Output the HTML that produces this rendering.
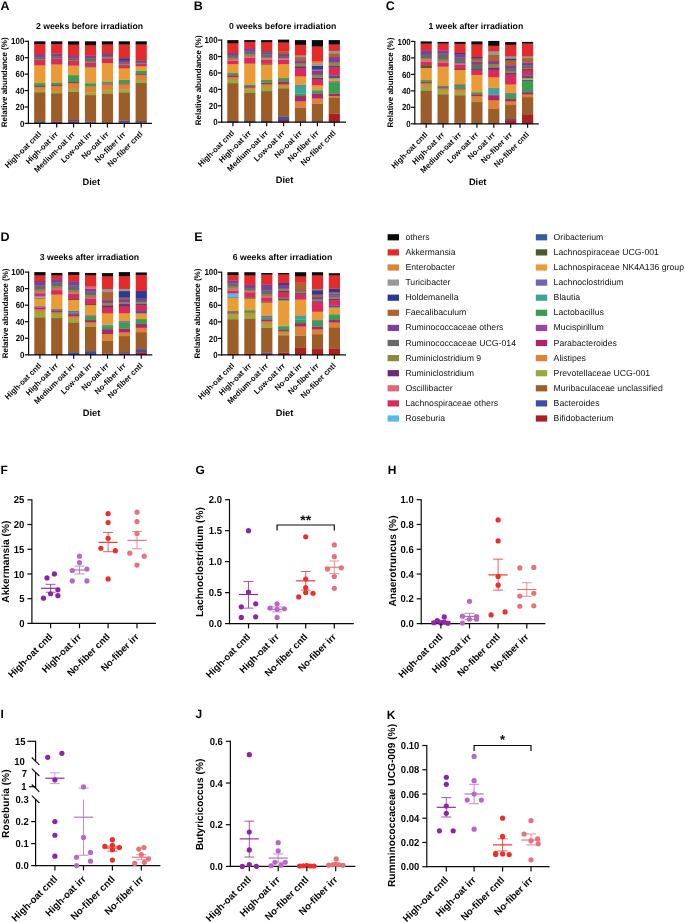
<!DOCTYPE html>
<html><head><meta charset="utf-8"><title>Figure</title>
<style>
html,body{margin:0;padding:0;background:#ffffff;}
body{width:685px;height:922px;overflow:hidden;}
svg{display:block;will-change:transform;}
text{font-family:"Liberation Sans", sans-serif;text-rendering:geometricPrecision;}
</style></head>
<body>
<svg width="685" height="922" viewBox="0 0 685 922">
<rect width="685" height="922" fill="#ffffff"/>
<rect x="34.20" y="122.74" width="11.20" height="0.91" fill="#a81f24"/>
<rect x="34.20" y="121.18" width="11.20" height="1.81" fill="#3c4fa5"/>
<rect x="34.20" y="92.12" width="11.20" height="29.31" fill="#9c5d29"/>
<rect x="34.20" y="90.15" width="11.20" height="2.22" fill="#9aaa3c"/>
<rect x="34.20" y="86.78" width="11.20" height="3.62" fill="#dd8236"/>
<rect x="34.20" y="85.96" width="11.20" height="1.07" fill="#b0246a"/>
<rect x="34.20" y="83.01" width="11.20" height="3.21" fill="#3c9c50"/>
<rect x="34.20" y="65.03" width="11.20" height="18.23" fill="#eb9b35"/>
<rect x="34.20" y="59.85" width="11.20" height="5.42" fill="#da2a5c"/>
<rect x="34.20" y="58.87" width="11.20" height="1.24" fill="#8b8a3a"/>
<rect x="34.20" y="58.05" width="11.20" height="1.07" fill="#686868"/>
<rect x="34.20" y="57.39" width="11.20" height="0.91" fill="#4f5a2a"/>
<rect x="34.20" y="54.03" width="11.20" height="3.62" fill="#7f3e9d"/>
<rect x="34.20" y="43.76" width="11.20" height="10.51" fill="#e32b2b"/>
<rect x="34.20" y="41.30" width="11.20" height="2.71" fill="#0a0a0a"/>
<rect x="51.10" y="121.43" width="11.20" height="2.22" fill="#6b2a7b"/>
<rect x="51.10" y="93.11" width="11.20" height="28.57" fill="#9c5d29"/>
<rect x="51.10" y="91.13" width="11.20" height="2.22" fill="#9aaa3c"/>
<rect x="51.10" y="85.80" width="11.20" height="5.59" fill="#dd8236"/>
<rect x="51.10" y="84.98" width="11.20" height="1.07" fill="#b0246a"/>
<rect x="51.10" y="82.35" width="11.20" height="2.88" fill="#3c9c50"/>
<rect x="51.10" y="64.29" width="11.20" height="18.31" fill="#eb9b35"/>
<rect x="51.10" y="58.87" width="11.20" height="5.67" fill="#da2a5c"/>
<rect x="51.10" y="58.05" width="11.20" height="1.07" fill="#8b8a3a"/>
<rect x="51.10" y="57.15" width="11.20" height="1.15" fill="#686868"/>
<rect x="51.10" y="56.49" width="11.20" height="0.91" fill="#4f5a2a"/>
<rect x="51.10" y="53.53" width="11.20" height="3.21" fill="#7f3e9d"/>
<rect x="51.10" y="43.76" width="11.20" height="10.02" fill="#e32b2b"/>
<rect x="51.10" y="41.30" width="11.20" height="2.71" fill="#0a0a0a"/>
<rect x="68.00" y="121.43" width="11.20" height="2.22" fill="#a81f24"/>
<rect x="68.00" y="119.95" width="11.20" height="1.73" fill="#3c4fa5"/>
<rect x="68.00" y="91.63" width="11.20" height="28.57" fill="#9c5d29"/>
<rect x="68.00" y="88.67" width="11.20" height="3.21" fill="#9aaa3c"/>
<rect x="68.00" y="82.84" width="11.20" height="6.08" fill="#dd8236"/>
<rect x="68.00" y="81.86" width="11.20" height="1.24" fill="#b0246a"/>
<rect x="68.00" y="75.04" width="11.20" height="7.06" fill="#3c9c50"/>
<rect x="68.00" y="65.44" width="11.20" height="9.86" fill="#eb9b35"/>
<rect x="68.00" y="60.84" width="11.20" height="4.85" fill="#da2a5c"/>
<rect x="68.00" y="60.02" width="11.20" height="1.07" fill="#8b8a3a"/>
<rect x="68.00" y="59.03" width="11.20" height="1.24" fill="#686868"/>
<rect x="68.00" y="58.38" width="11.20" height="0.91" fill="#4f5a2a"/>
<rect x="68.00" y="56.00" width="11.20" height="2.63" fill="#7f3e9d"/>
<rect x="68.00" y="44.50" width="11.20" height="11.74" fill="#e32b2b"/>
<rect x="68.00" y="41.30" width="11.20" height="3.45" fill="#0a0a0a"/>
<rect x="84.90" y="122.58" width="11.20" height="1.07" fill="#6b2a7b"/>
<rect x="84.90" y="121.59" width="11.20" height="1.24" fill="#3c4fa5"/>
<rect x="84.90" y="94.99" width="11.20" height="26.85" fill="#9c5d29"/>
<rect x="84.90" y="92.45" width="11.20" height="2.80" fill="#9aaa3c"/>
<rect x="84.90" y="86.29" width="11.20" height="6.41" fill="#dd8236"/>
<rect x="84.90" y="83.66" width="11.20" height="2.88" fill="#3c9c50"/>
<rect x="84.90" y="83.01" width="11.20" height="0.91" fill="#40a39a"/>
<rect x="84.90" y="67.41" width="11.20" height="15.85" fill="#eb9b35"/>
<rect x="84.90" y="66.67" width="11.20" height="0.99" fill="#3c9c50"/>
<rect x="84.90" y="62.24" width="11.20" height="4.68" fill="#da2a5c"/>
<rect x="84.90" y="61.00" width="11.20" height="1.48" fill="#8b8a3a"/>
<rect x="84.90" y="59.53" width="11.20" height="1.73" fill="#686868"/>
<rect x="84.90" y="58.46" width="11.20" height="1.32" fill="#4f5a2a"/>
<rect x="84.90" y="55.59" width="11.20" height="3.12" fill="#7f3e9d"/>
<rect x="84.90" y="44.91" width="11.20" height="10.92" fill="#e32b2b"/>
<rect x="84.90" y="41.30" width="11.20" height="3.86" fill="#0a0a0a"/>
<rect x="101.80" y="93.27" width="11.20" height="30.38" fill="#9c5d29"/>
<rect x="101.80" y="90.40" width="11.20" height="3.12" fill="#9aaa3c"/>
<rect x="101.80" y="84.24" width="11.20" height="6.41" fill="#dd8236"/>
<rect x="101.80" y="83.42" width="11.20" height="1.07" fill="#b0246a"/>
<rect x="101.80" y="81.36" width="11.20" height="2.30" fill="#3c9c50"/>
<rect x="101.80" y="62.81" width="11.20" height="18.80" fill="#eb9b35"/>
<rect x="101.80" y="58.13" width="11.20" height="4.93" fill="#da2a5c"/>
<rect x="101.80" y="57.31" width="11.20" height="1.07" fill="#8b8a3a"/>
<rect x="101.80" y="56.49" width="11.20" height="1.07" fill="#686868"/>
<rect x="101.80" y="55.83" width="11.20" height="0.91" fill="#4f5a2a"/>
<rect x="101.80" y="53.04" width="11.20" height="3.04" fill="#7f3e9d"/>
<rect x="101.80" y="44.17" width="11.20" height="9.12" fill="#e32b2b"/>
<rect x="101.80" y="41.30" width="11.20" height="3.12" fill="#0a0a0a"/>
<rect x="118.70" y="122.25" width="11.20" height="1.40" fill="#a81f24"/>
<rect x="118.70" y="120.53" width="11.20" height="1.97" fill="#3c4fa5"/>
<rect x="118.70" y="92.20" width="11.20" height="28.57" fill="#9c5d29"/>
<rect x="118.70" y="89.33" width="11.20" height="3.12" fill="#9aaa3c"/>
<rect x="118.70" y="84.07" width="11.20" height="5.50" fill="#dd8236"/>
<rect x="118.70" y="83.25" width="11.20" height="1.07" fill="#b0246a"/>
<rect x="118.70" y="79.64" width="11.20" height="3.86" fill="#3c9c50"/>
<rect x="118.70" y="68.06" width="11.20" height="11.83" fill="#eb9b35"/>
<rect x="118.70" y="65.03" width="11.20" height="3.29" fill="#da2a5c"/>
<rect x="118.70" y="64.21" width="11.20" height="1.07" fill="#8b8a3a"/>
<rect x="118.70" y="63.30" width="11.20" height="1.15" fill="#686868"/>
<rect x="118.70" y="62.56" width="11.20" height="0.99" fill="#4f5a2a"/>
<rect x="118.70" y="59.94" width="11.20" height="2.88" fill="#7f3e9d"/>
<rect x="118.70" y="58.13" width="11.20" height="2.06" fill="#2e3a8f"/>
<rect x="118.70" y="44.17" width="11.20" height="14.21" fill="#e32b2b"/>
<rect x="118.70" y="41.30" width="11.20" height="3.12" fill="#0a0a0a"/>
<rect x="135.60" y="122.25" width="11.20" height="1.40" fill="#a81f24"/>
<rect x="135.60" y="121.02" width="11.20" height="1.48" fill="#3c4fa5"/>
<rect x="135.60" y="82.68" width="11.20" height="38.59" fill="#9c5d29"/>
<rect x="135.60" y="80.13" width="11.20" height="2.80" fill="#9aaa3c"/>
<rect x="135.60" y="74.80" width="11.20" height="5.59" fill="#dd8236"/>
<rect x="135.60" y="74.06" width="11.20" height="0.99" fill="#b0246a"/>
<rect x="135.60" y="70.45" width="11.20" height="3.86" fill="#3c9c50"/>
<rect x="135.60" y="66.01" width="11.20" height="4.68" fill="#eb9b35"/>
<rect x="135.60" y="63.80" width="11.20" height="2.47" fill="#da2a5c"/>
<rect x="135.60" y="63.14" width="11.20" height="0.91" fill="#8b8a3a"/>
<rect x="135.60" y="62.65" width="11.20" height="0.74" fill="#686868"/>
<rect x="135.60" y="62.24" width="11.20" height="0.66" fill="#4f5a2a"/>
<rect x="135.60" y="60.18" width="11.20" height="2.30" fill="#7f3e9d"/>
<rect x="135.60" y="44.17" width="11.20" height="16.26" fill="#e32b2b"/>
<rect x="135.60" y="41.30" width="11.20" height="3.12" fill="#0a0a0a"/>
<line x1="28.40" y1="40.80" x2="28.40" y2="123.95" stroke="#0a0a0a" stroke-width="1.2"/>
<line x1="27.85" y1="123.40" x2="152.00" y2="123.40" stroke="#0a0a0a" stroke-width="1.2"/>
<line x1="24.60" y1="123.40" x2="28.40" y2="123.40" stroke="#0a0a0a" stroke-width="1.2"/>
<text transform="translate(24.30 126.55) scale(0.9 1)" font-size="8.8" font-weight="bold" text-anchor="end" fill="#050505">0</text>
<line x1="24.60" y1="106.98" x2="28.40" y2="106.98" stroke="#0a0a0a" stroke-width="1.2"/>
<text transform="translate(24.30 110.13) scale(0.9 1)" font-size="8.8" font-weight="bold" text-anchor="end" fill="#050505">20</text>
<line x1="24.60" y1="90.56" x2="28.40" y2="90.56" stroke="#0a0a0a" stroke-width="1.2"/>
<text transform="translate(24.30 93.71) scale(0.9 1)" font-size="8.8" font-weight="bold" text-anchor="end" fill="#050505">40</text>
<line x1="24.60" y1="74.14" x2="28.40" y2="74.14" stroke="#0a0a0a" stroke-width="1.2"/>
<text transform="translate(24.30 77.29) scale(0.9 1)" font-size="8.8" font-weight="bold" text-anchor="end" fill="#050505">60</text>
<line x1="24.60" y1="57.72" x2="28.40" y2="57.72" stroke="#0a0a0a" stroke-width="1.2"/>
<text transform="translate(24.30 60.87) scale(0.9 1)" font-size="8.8" font-weight="bold" text-anchor="end" fill="#050505">80</text>
<line x1="24.60" y1="41.30" x2="28.40" y2="41.30" stroke="#0a0a0a" stroke-width="1.2"/>
<text transform="translate(24.30 44.45) scale(0.9 1)" font-size="8.8" font-weight="bold" text-anchor="end" fill="#050505">100</text>
<line x1="39.80" y1="123.40" x2="39.80" y2="127.40" stroke="#0a0a0a" stroke-width="1.2"/>
<text x="41.70" y="134.80" font-size="7.8" font-weight="bold" text-anchor="end" fill="#050505" transform="rotate(-45 41.70 134.80)">High-oat cntl</text>
<line x1="56.70" y1="123.40" x2="56.70" y2="127.40" stroke="#0a0a0a" stroke-width="1.2"/>
<text x="58.60" y="134.80" font-size="7.8" font-weight="bold" text-anchor="end" fill="#050505" transform="rotate(-45 58.60 134.80)">High-oat irr</text>
<line x1="73.60" y1="123.40" x2="73.60" y2="127.40" stroke="#0a0a0a" stroke-width="1.2"/>
<text x="75.50" y="134.80" font-size="7.8" font-weight="bold" text-anchor="end" fill="#050505" transform="rotate(-45 75.50 134.80)">Medium-oat irr</text>
<line x1="90.50" y1="123.40" x2="90.50" y2="127.40" stroke="#0a0a0a" stroke-width="1.2"/>
<text x="92.40" y="134.80" font-size="7.8" font-weight="bold" text-anchor="end" fill="#050505" transform="rotate(-45 92.40 134.80)">Low-oat irr</text>
<line x1="107.40" y1="123.40" x2="107.40" y2="127.40" stroke="#0a0a0a" stroke-width="1.2"/>
<text x="109.30" y="134.80" font-size="7.8" font-weight="bold" text-anchor="end" fill="#050505" transform="rotate(-45 109.30 134.80)">No-oat irr</text>
<line x1="124.30" y1="123.40" x2="124.30" y2="127.40" stroke="#0a0a0a" stroke-width="1.2"/>
<text x="126.20" y="134.80" font-size="7.8" font-weight="bold" text-anchor="end" fill="#050505" transform="rotate(-45 126.20 134.80)">No-fiber irr</text>
<line x1="141.20" y1="123.40" x2="141.20" y2="127.40" stroke="#0a0a0a" stroke-width="1.2"/>
<text x="143.10" y="134.80" font-size="7.8" font-weight="bold" text-anchor="end" fill="#050505" transform="rotate(-45 143.10 134.80)">No-fiber cntl</text>
<text x="89.50" y="29.00" font-size="8.7" font-weight="bold" text-anchor="middle" fill="#050505">2 weeks before irradiation</text>
<text x="7.40" y="82.35" font-size="8.0" font-weight="bold" text-anchor="middle" fill="#050505" transform="rotate(-90 7.40 82.35)">Relative abundance (%)</text>
<text x="91.30" y="184.80" font-size="9.3" font-weight="bold" text-anchor="middle" fill="#050505">Diet</text>
<text x="0.60" y="9.60" font-size="12.5" font-weight="bold" text-anchor="start" fill="#050505">A</text>
<rect x="227.30" y="120.64" width="11.20" height="1.81" fill="#6b2a7b"/>
<rect x="227.30" y="83.04" width="11.20" height="37.85" fill="#9c5d29"/>
<rect x="227.30" y="78.93" width="11.20" height="4.35" fill="#9aaa3c"/>
<rect x="227.30" y="76.88" width="11.20" height="2.30" fill="#dd8236"/>
<rect x="227.30" y="75.16" width="11.20" height="1.97" fill="#b0246a"/>
<rect x="227.30" y="72.86" width="11.20" height="2.55" fill="#3c9c50"/>
<rect x="227.30" y="63.83" width="11.20" height="9.28" fill="#eb9b35"/>
<rect x="227.30" y="60.38" width="11.20" height="3.70" fill="#da2a5c"/>
<rect x="227.30" y="58.98" width="11.20" height="1.65" fill="#e0677a"/>
<rect x="227.30" y="57.67" width="11.20" height="1.56" fill="#8b8a3a"/>
<rect x="227.30" y="54.88" width="11.20" height="3.04" fill="#686868"/>
<rect x="227.30" y="52.91" width="11.20" height="2.22" fill="#7f3e9d"/>
<rect x="227.30" y="42.97" width="11.20" height="10.18" fill="#e32b2b"/>
<rect x="227.30" y="40.10" width="11.20" height="3.12" fill="#0a0a0a"/>
<rect x="244.20" y="121.05" width="11.20" height="1.40" fill="#3c4fa5"/>
<rect x="244.20" y="92.73" width="11.20" height="28.57" fill="#9c5d29"/>
<rect x="244.20" y="89.20" width="11.20" height="3.78" fill="#9aaa3c"/>
<rect x="244.20" y="87.47" width="11.20" height="1.97" fill="#dd8236"/>
<rect x="244.20" y="86.08" width="11.20" height="1.65" fill="#b0246a"/>
<rect x="244.20" y="84.35" width="11.20" height="1.97" fill="#3c9c50"/>
<rect x="244.20" y="63.42" width="11.20" height="21.19" fill="#eb9b35"/>
<rect x="244.20" y="57.51" width="11.20" height="6.16" fill="#da2a5c"/>
<rect x="244.20" y="55.95" width="11.20" height="1.81" fill="#e0677a"/>
<rect x="244.20" y="54.39" width="11.20" height="1.81" fill="#8b8a3a"/>
<rect x="244.20" y="51.10" width="11.20" height="3.53" fill="#686868"/>
<rect x="244.20" y="48.06" width="11.20" height="3.29" fill="#7f3e9d"/>
<rect x="244.20" y="41.66" width="11.20" height="6.65" fill="#e32b2b"/>
<rect x="244.20" y="40.10" width="11.20" height="1.81" fill="#0a0a0a"/>
<rect x="261.10" y="121.05" width="11.20" height="1.40" fill="#6b2a7b"/>
<rect x="261.10" y="91.00" width="11.20" height="30.30" fill="#9c5d29"/>
<rect x="261.10" y="86.81" width="11.20" height="4.44" fill="#9aaa3c"/>
<rect x="261.10" y="84.02" width="11.20" height="3.04" fill="#dd8236"/>
<rect x="261.10" y="82.55" width="11.20" height="1.73" fill="#b0246a"/>
<rect x="261.10" y="79.43" width="11.20" height="3.37" fill="#3c9c50"/>
<rect x="261.10" y="64.40" width="11.20" height="15.27" fill="#eb9b35"/>
<rect x="261.10" y="63.58" width="11.20" height="1.07" fill="#4f5a2a"/>
<rect x="261.10" y="59.56" width="11.20" height="4.27" fill="#da2a5c"/>
<rect x="261.10" y="58.33" width="11.20" height="1.48" fill="#e0677a"/>
<rect x="261.10" y="56.93" width="11.20" height="1.65" fill="#8b8a3a"/>
<rect x="261.10" y="54.39" width="11.20" height="2.80" fill="#686868"/>
<rect x="261.10" y="52.33" width="11.20" height="2.30" fill="#7f3e9d"/>
<rect x="261.10" y="51.10" width="11.20" height="1.48" fill="#4f5a2a"/>
<rect x="261.10" y="41.91" width="11.20" height="9.45" fill="#e32b2b"/>
<rect x="261.10" y="40.10" width="11.20" height="2.06" fill="#0a0a0a"/>
<rect x="278.00" y="119.82" width="11.20" height="2.63" fill="#a81f24"/>
<rect x="278.00" y="116.29" width="11.20" height="3.78" fill="#3c4fa5"/>
<rect x="278.00" y="88.13" width="11.20" height="28.41" fill="#9c5d29"/>
<rect x="278.00" y="86.08" width="11.20" height="2.30" fill="#9aaa3c"/>
<rect x="278.00" y="84.02" width="11.20" height="2.30" fill="#dd8236"/>
<rect x="278.00" y="81.23" width="11.20" height="3.04" fill="#b0246a"/>
<rect x="278.00" y="77.95" width="11.20" height="3.53" fill="#3c9c50"/>
<rect x="278.00" y="63.83" width="11.20" height="14.37" fill="#eb9b35"/>
<rect x="278.00" y="59.56" width="11.20" height="4.52" fill="#da2a5c"/>
<rect x="278.00" y="58.33" width="11.20" height="1.48" fill="#e0677a"/>
<rect x="278.00" y="55.95" width="11.20" height="2.63" fill="#686868"/>
<rect x="278.00" y="53.89" width="11.20" height="2.30" fill="#7f3e9d"/>
<rect x="278.00" y="51.35" width="11.20" height="2.80" fill="#b0622e"/>
<rect x="278.00" y="42.32" width="11.20" height="9.28" fill="#e32b2b"/>
<rect x="278.00" y="39.61" width="11.20" height="2.96" fill="#0a0a0a"/>
<rect x="294.90" y="107.34" width="11.20" height="15.11" fill="#9c5d29"/>
<rect x="294.90" y="101.10" width="11.20" height="6.49" fill="#dd8236"/>
<rect x="294.90" y="95.93" width="11.20" height="5.42" fill="#b0246a"/>
<rect x="294.90" y="93.30" width="11.20" height="2.88" fill="#3c9c50"/>
<rect x="294.90" y="85.01" width="11.20" height="8.54" fill="#40a39a"/>
<rect x="294.90" y="84.52" width="11.20" height="0.74" fill="#7462b3"/>
<rect x="294.90" y="76.14" width="11.20" height="8.62" fill="#eb9b35"/>
<rect x="294.90" y="68.34" width="11.20" height="8.05" fill="#da2a5c"/>
<rect x="294.90" y="66.13" width="11.20" height="2.47" fill="#6b2a7b"/>
<rect x="294.90" y="63.42" width="11.20" height="2.96" fill="#8b8a3a"/>
<rect x="294.90" y="60.95" width="11.20" height="2.71" fill="#7f3e9d"/>
<rect x="294.90" y="57.01" width="11.20" height="4.19" fill="#b0622e"/>
<rect x="294.90" y="55.12" width="11.20" height="2.14" fill="#979797"/>
<rect x="294.90" y="44.62" width="11.20" height="10.76" fill="#e32b2b"/>
<rect x="294.90" y="40.10" width="11.20" height="4.77" fill="#0a0a0a"/>
<rect x="311.80" y="121.21" width="11.20" height="1.24" fill="#3c4fa5"/>
<rect x="311.80" y="103.40" width="11.20" height="18.07" fill="#9c5d29"/>
<rect x="311.80" y="98.23" width="11.20" height="5.42" fill="#dd8236"/>
<rect x="311.80" y="93.30" width="11.20" height="5.18" fill="#b0246a"/>
<rect x="311.80" y="90.35" width="11.20" height="3.21" fill="#3c9c50"/>
<rect x="311.80" y="89.69" width="11.20" height="0.91" fill="#40a39a"/>
<rect x="311.80" y="85.01" width="11.20" height="4.93" fill="#eb9b35"/>
<rect x="311.80" y="79.10" width="11.20" height="6.16" fill="#da2a5c"/>
<rect x="311.80" y="77.62" width="11.20" height="1.73" fill="#6b2a7b"/>
<rect x="311.80" y="74.66" width="11.20" height="3.21" fill="#8b8a3a"/>
<rect x="311.80" y="70.31" width="11.20" height="4.60" fill="#7f3e9d"/>
<rect x="311.80" y="69.08" width="11.20" height="1.48" fill="#b0622e"/>
<rect x="311.80" y="65.55" width="11.20" height="3.78" fill="#2e3a8f"/>
<rect x="311.80" y="63.42" width="11.20" height="2.38" fill="#979797"/>
<rect x="311.80" y="60.95" width="11.20" height="2.71" fill="#dd8236"/>
<rect x="311.80" y="46.26" width="11.20" height="14.95" fill="#e32b2b"/>
<rect x="311.80" y="40.10" width="11.20" height="6.41" fill="#0a0a0a"/>
<rect x="328.70" y="113.42" width="11.20" height="9.03" fill="#a81f24"/>
<rect x="328.70" y="97.24" width="11.20" height="16.42" fill="#9c5d29"/>
<rect x="328.70" y="95.76" width="11.20" height="1.73" fill="#dd8236"/>
<rect x="328.70" y="93.30" width="11.20" height="2.71" fill="#b0246a"/>
<rect x="328.70" y="82.22" width="11.20" height="11.33" fill="#3c9c50"/>
<rect x="328.70" y="81.07" width="11.20" height="1.40" fill="#7462b3"/>
<rect x="328.70" y="78.11" width="11.20" height="3.21" fill="#eb9b35"/>
<rect x="328.70" y="75.40" width="11.20" height="2.96" fill="#2f5f9e"/>
<rect x="328.70" y="67.36" width="11.20" height="8.30" fill="#da2a5c"/>
<rect x="328.70" y="65.88" width="11.20" height="1.73" fill="#6b2a7b"/>
<rect x="328.70" y="62.43" width="11.20" height="3.70" fill="#8b8a3a"/>
<rect x="328.70" y="57.01" width="11.20" height="5.67" fill="#7f3e9d"/>
<rect x="328.70" y="53.15" width="11.20" height="4.11" fill="#b0622e"/>
<rect x="328.70" y="50.69" width="11.20" height="2.71" fill="#979797"/>
<rect x="328.70" y="44.29" width="11.20" height="6.65" fill="#e32b2b"/>
<rect x="328.70" y="40.10" width="11.20" height="4.44" fill="#0a0a0a"/>
<line x1="221.70" y1="39.60" x2="221.70" y2="122.75" stroke="#0a0a0a" stroke-width="1.2"/>
<line x1="221.15" y1="122.20" x2="346.00" y2="122.20" stroke="#0a0a0a" stroke-width="1.2"/>
<line x1="217.90" y1="122.20" x2="221.70" y2="122.20" stroke="#0a0a0a" stroke-width="1.2"/>
<text transform="translate(217.60 125.35) scale(0.9 1)" font-size="8.8" font-weight="bold" text-anchor="end" fill="#050505">0</text>
<line x1="217.90" y1="105.78" x2="221.70" y2="105.78" stroke="#0a0a0a" stroke-width="1.2"/>
<text transform="translate(217.60 108.93) scale(0.9 1)" font-size="8.8" font-weight="bold" text-anchor="end" fill="#050505">20</text>
<line x1="217.90" y1="89.36" x2="221.70" y2="89.36" stroke="#0a0a0a" stroke-width="1.2"/>
<text transform="translate(217.60 92.51) scale(0.9 1)" font-size="8.8" font-weight="bold" text-anchor="end" fill="#050505">40</text>
<line x1="217.90" y1="72.94" x2="221.70" y2="72.94" stroke="#0a0a0a" stroke-width="1.2"/>
<text transform="translate(217.60 76.09) scale(0.9 1)" font-size="8.8" font-weight="bold" text-anchor="end" fill="#050505">60</text>
<line x1="217.90" y1="56.52" x2="221.70" y2="56.52" stroke="#0a0a0a" stroke-width="1.2"/>
<text transform="translate(217.60 59.67) scale(0.9 1)" font-size="8.8" font-weight="bold" text-anchor="end" fill="#050505">80</text>
<line x1="217.90" y1="40.10" x2="221.70" y2="40.10" stroke="#0a0a0a" stroke-width="1.2"/>
<text transform="translate(217.60 43.25) scale(0.9 1)" font-size="8.8" font-weight="bold" text-anchor="end" fill="#050505">100</text>
<line x1="232.90" y1="122.20" x2="232.90" y2="126.20" stroke="#0a0a0a" stroke-width="1.2"/>
<text x="234.80" y="133.60" font-size="7.8" font-weight="bold" text-anchor="end" fill="#050505" transform="rotate(-45 234.80 133.60)">High-oat cntl</text>
<line x1="249.80" y1="122.20" x2="249.80" y2="126.20" stroke="#0a0a0a" stroke-width="1.2"/>
<text x="251.70" y="133.60" font-size="7.8" font-weight="bold" text-anchor="end" fill="#050505" transform="rotate(-45 251.70 133.60)">High-oat irr</text>
<line x1="266.70" y1="122.20" x2="266.70" y2="126.20" stroke="#0a0a0a" stroke-width="1.2"/>
<text x="268.60" y="133.60" font-size="7.8" font-weight="bold" text-anchor="end" fill="#050505" transform="rotate(-45 268.60 133.60)">Medium-oat irr</text>
<line x1="283.60" y1="122.20" x2="283.60" y2="126.20" stroke="#0a0a0a" stroke-width="1.2"/>
<text x="285.50" y="133.60" font-size="7.8" font-weight="bold" text-anchor="end" fill="#050505" transform="rotate(-45 285.50 133.60)">Low-oat irr</text>
<line x1="300.50" y1="122.20" x2="300.50" y2="126.20" stroke="#0a0a0a" stroke-width="1.2"/>
<text x="302.40" y="133.60" font-size="7.8" font-weight="bold" text-anchor="end" fill="#050505" transform="rotate(-45 302.40 133.60)">No-oat irr</text>
<line x1="317.40" y1="122.20" x2="317.40" y2="126.20" stroke="#0a0a0a" stroke-width="1.2"/>
<text x="319.30" y="133.60" font-size="7.8" font-weight="bold" text-anchor="end" fill="#050505" transform="rotate(-45 319.30 133.60)">No-fiber irr</text>
<line x1="334.30" y1="122.20" x2="334.30" y2="126.20" stroke="#0a0a0a" stroke-width="1.2"/>
<text x="336.20" y="133.60" font-size="7.8" font-weight="bold" text-anchor="end" fill="#050505" transform="rotate(-45 336.20 133.60)">No-fiber cntl</text>
<text x="282.70" y="28.50" font-size="8.7" font-weight="bold" text-anchor="middle" fill="#050505">0 weeks before irradiation</text>
<text x="201.00" y="80.35" font-size="8.0" font-weight="bold" text-anchor="middle" fill="#050505" transform="rotate(-90 201.00 80.35)">Relative abundance (%)</text>
<text x="284.60" y="182.70" font-size="9.3" font-weight="bold" text-anchor="middle" fill="#050505">Diet</text>
<text x="193.80" y="9.60" font-size="12.5" font-weight="bold" text-anchor="start" fill="#050505">B</text>
<rect x="420.60" y="122.98" width="11.20" height="1.07" fill="#3c4fa5"/>
<rect x="420.60" y="90.26" width="11.20" height="32.96" fill="#9c5d29"/>
<rect x="420.60" y="85.90" width="11.20" height="4.62" fill="#9aaa3c"/>
<rect x="420.60" y="83.09" width="11.20" height="3.05" fill="#dd8236"/>
<rect x="420.60" y="82.02" width="11.20" height="1.32" fill="#b0246a"/>
<rect x="420.60" y="79.96" width="11.20" height="2.31" fill="#3c9c50"/>
<rect x="420.60" y="67.77" width="11.20" height="12.45" fill="#eb9b35"/>
<rect x="420.60" y="65.13" width="11.20" height="2.89" fill="#4f5a2a"/>
<rect x="420.60" y="61.59" width="11.20" height="3.79" fill="#da2a5c"/>
<rect x="420.60" y="59.28" width="11.20" height="2.56" fill="#e0677a"/>
<rect x="420.60" y="57.96" width="11.20" height="1.57" fill="#8b8a3a"/>
<rect x="420.60" y="53.92" width="11.20" height="4.29" fill="#686868"/>
<rect x="420.60" y="50.13" width="11.20" height="4.04" fill="#7f3e9d"/>
<rect x="420.60" y="43.46" width="11.20" height="6.92" fill="#e32b2b"/>
<rect x="420.60" y="41.40" width="11.20" height="2.31" fill="#0a0a0a"/>
<rect x="437.50" y="122.98" width="11.20" height="1.07" fill="#6b2a7b"/>
<rect x="437.50" y="94.14" width="11.20" height="29.09" fill="#9c5d29"/>
<rect x="437.50" y="90.02" width="11.20" height="4.37" fill="#9aaa3c"/>
<rect x="437.50" y="88.20" width="11.20" height="2.06" fill="#dd8236"/>
<rect x="437.50" y="87.13" width="11.20" height="1.32" fill="#b0246a"/>
<rect x="437.50" y="85.32" width="11.20" height="2.06" fill="#3c9c50"/>
<rect x="437.50" y="66.45" width="11.20" height="19.12" fill="#eb9b35"/>
<rect x="437.50" y="62.82" width="11.20" height="3.88" fill="#da2a5c"/>
<rect x="437.50" y="60.85" width="11.20" height="2.23" fill="#e0677a"/>
<rect x="437.50" y="59.03" width="11.20" height="2.06" fill="#8b8a3a"/>
<rect x="437.50" y="53.60" width="11.20" height="5.69" fill="#686868"/>
<rect x="437.50" y="50.30" width="11.20" height="3.55" fill="#7f3e9d"/>
<rect x="437.50" y="43.38" width="11.20" height="7.17" fill="#e32b2b"/>
<rect x="437.50" y="41.89" width="11.20" height="1.73" fill="#0a0a0a"/>
<rect x="454.40" y="122.48" width="11.20" height="1.57" fill="#6b2a7b"/>
<rect x="454.40" y="95.12" width="11.20" height="27.61" fill="#9c5d29"/>
<rect x="454.40" y="92.08" width="11.20" height="3.30" fill="#9aaa3c"/>
<rect x="454.40" y="89.03" width="11.20" height="3.30" fill="#dd8236"/>
<rect x="454.40" y="88.20" width="11.20" height="1.07" fill="#b0246a"/>
<rect x="454.40" y="84.91" width="11.20" height="3.55" fill="#3c9c50"/>
<rect x="454.40" y="84.08" width="11.20" height="1.07" fill="#7462b3"/>
<rect x="454.40" y="69.75" width="11.20" height="14.59" fill="#eb9b35"/>
<rect x="454.40" y="68.92" width="11.20" height="1.07" fill="#4f5a2a"/>
<rect x="454.40" y="64.80" width="11.20" height="4.37" fill="#da2a5c"/>
<rect x="454.40" y="63.40" width="11.20" height="1.65" fill="#e0677a"/>
<rect x="454.40" y="57.47" width="11.20" height="6.18" fill="#686868"/>
<rect x="454.40" y="54.17" width="11.20" height="3.55" fill="#7f3e9d"/>
<rect x="454.40" y="52.85" width="11.20" height="1.57" fill="#2e3a8f"/>
<rect x="454.40" y="43.62" width="11.20" height="9.48" fill="#e32b2b"/>
<rect x="454.40" y="41.89" width="11.20" height="1.98" fill="#0a0a0a"/>
<rect x="471.30" y="122.81" width="11.20" height="1.24" fill="#3c4fa5"/>
<rect x="471.30" y="101.96" width="11.20" height="21.10" fill="#9c5d29"/>
<rect x="471.30" y="100.98" width="11.20" height="1.24" fill="#9aaa3c"/>
<rect x="471.30" y="95.87" width="11.20" height="5.36" fill="#dd8236"/>
<rect x="471.30" y="94.14" width="11.20" height="1.98" fill="#b0246a"/>
<rect x="471.30" y="92.08" width="11.20" height="2.31" fill="#3c9c50"/>
<rect x="471.30" y="74.69" width="11.20" height="17.64" fill="#eb9b35"/>
<rect x="471.30" y="69.75" width="11.20" height="5.19" fill="#da2a5c"/>
<rect x="471.30" y="69.00" width="11.20" height="0.99" fill="#4f5a2a"/>
<rect x="471.30" y="63.81" width="11.20" height="5.44" fill="#686868"/>
<rect x="471.30" y="61.59" width="11.20" height="2.47" fill="#7f3e9d"/>
<rect x="471.30" y="58.46" width="11.20" height="3.38" fill="#b0622e"/>
<rect x="471.30" y="56.97" width="11.20" height="1.73" fill="#2e3a8f"/>
<rect x="471.30" y="44.20" width="11.20" height="13.02" fill="#e32b2b"/>
<rect x="471.30" y="41.40" width="11.20" height="3.05" fill="#0a0a0a"/>
<rect x="488.20" y="108.72" width="11.20" height="15.33" fill="#9c5d29"/>
<rect x="488.20" y="99.90" width="11.20" height="9.07" fill="#dd8236"/>
<rect x="488.20" y="95.70" width="11.20" height="4.45" fill="#b0246a"/>
<rect x="488.20" y="94.55" width="11.20" height="1.40" fill="#a040a8"/>
<rect x="488.20" y="88.20" width="11.20" height="6.59" fill="#40a39a"/>
<rect x="488.20" y="87.54" width="11.20" height="0.91" fill="#7462b3"/>
<rect x="488.20" y="77.00" width="11.20" height="10.80" fill="#eb9b35"/>
<rect x="488.20" y="69.66" width="11.20" height="7.58" fill="#da2a5c"/>
<rect x="488.20" y="67.27" width="11.20" height="2.64" fill="#6b2a7b"/>
<rect x="488.20" y="64.14" width="11.20" height="3.38" fill="#8b8a3a"/>
<rect x="488.20" y="60.93" width="11.20" height="3.46" fill="#7f3e9d"/>
<rect x="488.20" y="54.75" width="11.20" height="6.43" fill="#b0622e"/>
<rect x="488.20" y="51.12" width="11.20" height="3.88" fill="#979797"/>
<rect x="488.20" y="45.60" width="11.20" height="5.77" fill="#e32b2b"/>
<rect x="488.20" y="40.91" width="11.20" height="4.95" fill="#0a0a0a"/>
<rect x="505.10" y="120.09" width="11.20" height="3.96" fill="#a81f24"/>
<rect x="505.10" y="118.94" width="11.20" height="1.40" fill="#3c4fa5"/>
<rect x="505.10" y="104.27" width="11.20" height="14.92" fill="#9c5d29"/>
<rect x="505.10" y="101.14" width="11.20" height="3.38" fill="#dd8236"/>
<rect x="505.10" y="98.92" width="11.20" height="2.47" fill="#b0246a"/>
<rect x="505.10" y="93.56" width="11.20" height="5.61" fill="#3c9c50"/>
<rect x="505.10" y="92.57" width="11.20" height="1.24" fill="#7462b3"/>
<rect x="505.10" y="84.33" width="11.20" height="8.49" fill="#eb9b35"/>
<rect x="505.10" y="74.52" width="11.20" height="10.06" fill="#da2a5c"/>
<rect x="505.10" y="72.88" width="11.20" height="1.90" fill="#6b2a7b"/>
<rect x="505.10" y="70.98" width="11.20" height="2.15" fill="#8b8a3a"/>
<rect x="505.10" y="68.02" width="11.20" height="3.22" fill="#686868"/>
<rect x="505.10" y="65.13" width="11.20" height="3.13" fill="#7f3e9d"/>
<rect x="505.10" y="59.94" width="11.20" height="5.44" fill="#b0622e"/>
<rect x="505.10" y="58.29" width="11.20" height="1.90" fill="#2e3a8f"/>
<rect x="505.10" y="56.31" width="11.20" height="2.23" fill="#979797"/>
<rect x="505.10" y="44.61" width="11.20" height="11.95" fill="#e32b2b"/>
<rect x="505.10" y="42.06" width="11.20" height="2.80" fill="#0a0a0a"/>
<rect x="522.00" y="114.82" width="11.20" height="9.23" fill="#a81f24"/>
<rect x="522.00" y="97.02" width="11.20" height="18.05" fill="#9c5d29"/>
<rect x="522.00" y="94.38" width="11.20" height="2.89" fill="#dd8236"/>
<rect x="522.00" y="92.08" width="11.20" height="2.56" fill="#b0246a"/>
<rect x="522.00" y="80.70" width="11.20" height="11.62" fill="#3c9c50"/>
<rect x="522.00" y="79.72" width="11.20" height="1.24" fill="#2f5f9e"/>
<rect x="522.00" y="77.99" width="11.20" height="1.98" fill="#eb9b35"/>
<rect x="522.00" y="75.27" width="11.20" height="2.97" fill="#2f5f9e"/>
<rect x="522.00" y="69.99" width="11.20" height="5.52" fill="#da2a5c"/>
<rect x="522.00" y="69.00" width="11.20" height="1.24" fill="#6b2a7b"/>
<rect x="522.00" y="67.77" width="11.20" height="1.49" fill="#8b8a3a"/>
<rect x="522.00" y="65.13" width="11.20" height="2.89" fill="#686868"/>
<rect x="522.00" y="62.33" width="11.20" height="3.05" fill="#7f3e9d"/>
<rect x="522.00" y="57.96" width="11.20" height="4.62" fill="#b0622e"/>
<rect x="522.00" y="56.07" width="11.20" height="2.15" fill="#979797"/>
<rect x="522.00" y="43.38" width="11.20" height="12.94" fill="#e32b2b"/>
<rect x="522.00" y="41.89" width="11.20" height="1.73" fill="#0a0a0a"/>
<line x1="414.80" y1="40.90" x2="414.80" y2="124.35" stroke="#0a0a0a" stroke-width="1.2"/>
<line x1="414.25" y1="123.80" x2="538.80" y2="123.80" stroke="#0a0a0a" stroke-width="1.2"/>
<line x1="411.00" y1="123.80" x2="414.80" y2="123.80" stroke="#0a0a0a" stroke-width="1.2"/>
<text transform="translate(410.70 126.95) scale(0.9 1)" font-size="8.8" font-weight="bold" text-anchor="end" fill="#050505">0</text>
<line x1="411.00" y1="107.32" x2="414.80" y2="107.32" stroke="#0a0a0a" stroke-width="1.2"/>
<text transform="translate(410.70 110.47) scale(0.9 1)" font-size="8.8" font-weight="bold" text-anchor="end" fill="#050505">20</text>
<line x1="411.00" y1="90.84" x2="414.80" y2="90.84" stroke="#0a0a0a" stroke-width="1.2"/>
<text transform="translate(410.70 93.99) scale(0.9 1)" font-size="8.8" font-weight="bold" text-anchor="end" fill="#050505">40</text>
<line x1="411.00" y1="74.36" x2="414.80" y2="74.36" stroke="#0a0a0a" stroke-width="1.2"/>
<text transform="translate(410.70 77.51) scale(0.9 1)" font-size="8.8" font-weight="bold" text-anchor="end" fill="#050505">60</text>
<line x1="411.00" y1="57.88" x2="414.80" y2="57.88" stroke="#0a0a0a" stroke-width="1.2"/>
<text transform="translate(410.70 61.03) scale(0.9 1)" font-size="8.8" font-weight="bold" text-anchor="end" fill="#050505">80</text>
<line x1="411.00" y1="41.40" x2="414.80" y2="41.40" stroke="#0a0a0a" stroke-width="1.2"/>
<text transform="translate(410.70 44.55) scale(0.9 1)" font-size="8.8" font-weight="bold" text-anchor="end" fill="#050505">100</text>
<line x1="426.20" y1="123.80" x2="426.20" y2="127.80" stroke="#0a0a0a" stroke-width="1.2"/>
<text x="428.10" y="135.20" font-size="7.8" font-weight="bold" text-anchor="end" fill="#050505" transform="rotate(-45 428.10 135.20)">High-oat cntl</text>
<line x1="443.10" y1="123.80" x2="443.10" y2="127.80" stroke="#0a0a0a" stroke-width="1.2"/>
<text x="445.00" y="135.20" font-size="7.8" font-weight="bold" text-anchor="end" fill="#050505" transform="rotate(-45 445.00 135.20)">High-oat irr</text>
<line x1="460.00" y1="123.80" x2="460.00" y2="127.80" stroke="#0a0a0a" stroke-width="1.2"/>
<text x="461.90" y="135.20" font-size="7.8" font-weight="bold" text-anchor="end" fill="#050505" transform="rotate(-45 461.90 135.20)">Medium-oat irr</text>
<line x1="476.90" y1="123.80" x2="476.90" y2="127.80" stroke="#0a0a0a" stroke-width="1.2"/>
<text x="478.80" y="135.20" font-size="7.8" font-weight="bold" text-anchor="end" fill="#050505" transform="rotate(-45 478.80 135.20)">Low-oat irr</text>
<line x1="493.80" y1="123.80" x2="493.80" y2="127.80" stroke="#0a0a0a" stroke-width="1.2"/>
<text x="495.70" y="135.20" font-size="7.8" font-weight="bold" text-anchor="end" fill="#050505" transform="rotate(-45 495.70 135.20)">No-oat irr</text>
<line x1="510.70" y1="123.80" x2="510.70" y2="127.80" stroke="#0a0a0a" stroke-width="1.2"/>
<text x="512.60" y="135.20" font-size="7.8" font-weight="bold" text-anchor="end" fill="#050505" transform="rotate(-45 512.60 135.20)">No-fiber irr</text>
<line x1="527.60" y1="123.80" x2="527.60" y2="127.80" stroke="#0a0a0a" stroke-width="1.2"/>
<text x="529.50" y="135.20" font-size="7.8" font-weight="bold" text-anchor="end" fill="#050505" transform="rotate(-45 529.50 135.20)">No-fiber cntl</text>
<text x="475.90" y="28.50" font-size="8.7" font-weight="bold" text-anchor="middle" fill="#050505">1 week after irradiation</text>
<text x="393.30" y="82.60" font-size="8.0" font-weight="bold" text-anchor="middle" fill="#050505" transform="rotate(-90 393.30 82.60)">Relative abundance (%)</text>
<text x="477.70" y="184.80" font-size="9.3" font-weight="bold" text-anchor="middle" fill="#050505">Diet</text>
<text x="385.80" y="9.60" font-size="12.5" font-weight="bold" text-anchor="start" fill="#050505">C</text>
<rect x="34.30" y="353.81" width="11.20" height="1.24" fill="#3c4fa5"/>
<rect x="34.30" y="317.17" width="11.20" height="36.89" fill="#9c5d29"/>
<rect x="34.30" y="311.80" width="11.20" height="5.63" fill="#9aaa3c"/>
<rect x="34.30" y="308.98" width="11.20" height="3.06" fill="#dd8236"/>
<rect x="34.30" y="307.41" width="11.20" height="1.82" fill="#b0246a"/>
<rect x="34.30" y="306.09" width="11.20" height="1.57" fill="#7462b3"/>
<rect x="34.30" y="298.23" width="11.20" height="8.11" fill="#eb9b35"/>
<rect x="34.30" y="297.49" width="11.20" height="0.99" fill="#4f5a2a"/>
<rect x="34.30" y="296.17" width="11.20" height="1.57" fill="#5cb8e6"/>
<rect x="34.30" y="293.11" width="11.20" height="3.31" fill="#da2a5c"/>
<rect x="34.30" y="291.04" width="11.20" height="2.32" fill="#e0677a"/>
<rect x="34.30" y="288.97" width="11.20" height="2.32" fill="#8b8a3a"/>
<rect x="34.30" y="285.41" width="11.20" height="3.81" fill="#686868"/>
<rect x="34.30" y="282.11" width="11.20" height="3.56" fill="#7f3e9d"/>
<rect x="34.30" y="281.11" width="11.20" height="1.24" fill="#2e3a8f"/>
<rect x="34.30" y="275.16" width="11.20" height="6.20" fill="#e32b2b"/>
<rect x="34.30" y="272.10" width="11.20" height="3.31" fill="#0a0a0a"/>
<rect x="51.20" y="353.97" width="11.20" height="1.08" fill="#6b2a7b"/>
<rect x="51.20" y="317.92" width="11.20" height="36.31" fill="#9c5d29"/>
<rect x="51.20" y="313.86" width="11.20" height="4.30" fill="#9aaa3c"/>
<rect x="51.20" y="312.04" width="11.20" height="2.07" fill="#dd8236"/>
<rect x="51.20" y="310.97" width="11.20" height="1.33" fill="#b0246a"/>
<rect x="51.20" y="309.98" width="11.20" height="1.24" fill="#3c9c50"/>
<rect x="51.20" y="308.98" width="11.20" height="1.24" fill="#7462b3"/>
<rect x="51.20" y="294.43" width="11.20" height="14.81" fill="#eb9b35"/>
<rect x="51.20" y="290.05" width="11.20" height="4.63" fill="#da2a5c"/>
<rect x="51.20" y="287.98" width="11.20" height="2.32" fill="#e0677a"/>
<rect x="51.20" y="286.41" width="11.20" height="1.82" fill="#8b8a3a"/>
<rect x="51.20" y="282.52" width="11.20" height="4.14" fill="#686868"/>
<rect x="51.20" y="279.05" width="11.20" height="3.72" fill="#7f3e9d"/>
<rect x="51.20" y="274.99" width="11.20" height="4.30" fill="#e32b2b"/>
<rect x="51.20" y="272.93" width="11.20" height="2.32" fill="#0a0a0a"/>
<rect x="68.10" y="354.22" width="11.20" height="0.83" fill="#6b2a7b"/>
<rect x="68.10" y="352.15" width="11.20" height="2.32" fill="#3c4fa5"/>
<rect x="68.10" y="322.22" width="11.20" height="30.19" fill="#9c5d29"/>
<rect x="68.10" y="318.66" width="11.20" height="3.81" fill="#9aaa3c"/>
<rect x="68.10" y="316.10" width="11.20" height="2.81" fill="#dd8236"/>
<rect x="68.10" y="314.03" width="11.20" height="2.32" fill="#b0246a"/>
<rect x="68.10" y="312.54" width="11.20" height="1.74" fill="#3c9c50"/>
<rect x="68.10" y="310.47" width="11.20" height="2.32" fill="#7462b3"/>
<rect x="68.10" y="299.72" width="11.20" height="11.00" fill="#eb9b35"/>
<rect x="68.10" y="298.73" width="11.20" height="1.24" fill="#4f5a2a"/>
<rect x="68.10" y="293.60" width="11.20" height="5.38" fill="#da2a5c"/>
<rect x="68.10" y="292.03" width="11.20" height="1.82" fill="#e0677a"/>
<rect x="68.10" y="290.29" width="11.20" height="1.99" fill="#8b8a3a"/>
<rect x="68.10" y="285.17" width="11.20" height="5.38" fill="#686868"/>
<rect x="68.10" y="281.11" width="11.20" height="4.30" fill="#7f3e9d"/>
<rect x="68.10" y="274.66" width="11.20" height="6.70" fill="#e32b2b"/>
<rect x="68.10" y="272.10" width="11.20" height="2.81" fill="#0a0a0a"/>
<rect x="85.00" y="353.97" width="11.20" height="1.08" fill="#a81f24"/>
<rect x="85.00" y="351.08" width="11.20" height="3.14" fill="#3c4fa5"/>
<rect x="85.00" y="326.35" width="11.20" height="24.98" fill="#9c5d29"/>
<rect x="85.00" y="324.78" width="11.20" height="1.82" fill="#9aaa3c"/>
<rect x="85.00" y="322.05" width="11.20" height="2.98" fill="#dd8236"/>
<rect x="85.00" y="319.98" width="11.20" height="2.32" fill="#b0246a"/>
<rect x="85.00" y="316.10" width="11.20" height="4.14" fill="#3c9c50"/>
<rect x="85.00" y="315.10" width="11.20" height="1.24" fill="#7462b3"/>
<rect x="85.00" y="304.85" width="11.20" height="10.50" fill="#eb9b35"/>
<rect x="85.00" y="304.02" width="11.20" height="1.08" fill="#4f5a2a"/>
<rect x="85.00" y="298.23" width="11.20" height="6.04" fill="#da2a5c"/>
<rect x="85.00" y="296.91" width="11.20" height="1.57" fill="#e0677a"/>
<rect x="85.00" y="295.42" width="11.20" height="1.74" fill="#8b8a3a"/>
<rect x="85.00" y="291.53" width="11.20" height="4.14" fill="#686868"/>
<rect x="85.00" y="288.64" width="11.20" height="3.14" fill="#7f3e9d"/>
<rect x="85.00" y="286.41" width="11.20" height="2.48" fill="#e0677a"/>
<rect x="85.00" y="274.99" width="11.20" height="11.66" fill="#e32b2b"/>
<rect x="85.00" y="272.93" width="11.20" height="2.32" fill="#0a0a0a"/>
<rect x="101.90" y="353.56" width="11.20" height="1.49" fill="#6b2a7b"/>
<rect x="101.90" y="340.49" width="11.20" height="13.32" fill="#9c5d29"/>
<rect x="101.90" y="333.79" width="11.20" height="6.95" fill="#dd8236"/>
<rect x="101.90" y="329.08" width="11.20" height="4.96" fill="#b0246a"/>
<rect x="101.90" y="326.85" width="11.20" height="2.48" fill="#3c9c50"/>
<rect x="101.90" y="324.53" width="11.20" height="2.57" fill="#40a39a"/>
<rect x="101.90" y="313.12" width="11.20" height="11.66" fill="#eb9b35"/>
<rect x="101.90" y="306.92" width="11.20" height="6.45" fill="#da2a5c"/>
<rect x="101.90" y="305.18" width="11.20" height="1.99" fill="#6b2a7b"/>
<rect x="101.90" y="302.70" width="11.20" height="2.73" fill="#8b8a3a"/>
<rect x="101.90" y="300.05" width="11.20" height="2.90" fill="#7f3e9d"/>
<rect x="101.90" y="291.95" width="11.20" height="8.35" fill="#b0622e"/>
<rect x="101.90" y="288.72" width="11.20" height="3.48" fill="#979797"/>
<rect x="101.90" y="275.99" width="11.20" height="12.99" fill="#e32b2b"/>
<rect x="101.90" y="273.09" width="11.20" height="3.14" fill="#0a0a0a"/>
<rect x="118.80" y="353.23" width="11.20" height="1.82" fill="#a81f24"/>
<rect x="118.80" y="352.07" width="11.20" height="1.41" fill="#3c4fa5"/>
<rect x="118.80" y="335.94" width="11.20" height="16.38" fill="#9c5d29"/>
<rect x="118.80" y="332.06" width="11.20" height="4.14" fill="#dd8236"/>
<rect x="118.80" y="328.42" width="11.20" height="3.89" fill="#b0246a"/>
<rect x="118.80" y="322.22" width="11.20" height="6.45" fill="#3c9c50"/>
<rect x="118.80" y="320.98" width="11.20" height="1.49" fill="#7462b3"/>
<rect x="118.80" y="312.95" width="11.20" height="8.27" fill="#eb9b35"/>
<rect x="118.80" y="306.09" width="11.20" height="7.11" fill="#da2a5c"/>
<rect x="118.80" y="303.94" width="11.20" height="2.40" fill="#6b2a7b"/>
<rect x="118.80" y="302.20" width="11.20" height="1.99" fill="#8b8a3a"/>
<rect x="118.80" y="299.06" width="11.20" height="3.39" fill="#7f3e9d"/>
<rect x="118.80" y="297.49" width="11.20" height="1.82" fill="#b0622e"/>
<rect x="118.80" y="290.96" width="11.20" height="6.78" fill="#2e3a8f"/>
<rect x="118.80" y="288.72" width="11.20" height="2.48" fill="#979797"/>
<rect x="118.80" y="275.82" width="11.20" height="13.15" fill="#e32b2b"/>
<rect x="118.80" y="272.10" width="11.20" height="3.97" fill="#0a0a0a"/>
<rect x="135.70" y="352.24" width="11.20" height="2.81" fill="#a81f24"/>
<rect x="135.70" y="349.09" width="11.20" height="3.39" fill="#3c4fa5"/>
<rect x="135.70" y="332.06" width="11.20" height="17.29" fill="#9c5d29"/>
<rect x="135.70" y="327.59" width="11.20" height="4.72" fill="#dd8236"/>
<rect x="135.70" y="323.70" width="11.20" height="4.14" fill="#b0246a"/>
<rect x="135.70" y="318.99" width="11.20" height="4.96" fill="#3c9c50"/>
<rect x="135.70" y="313.12" width="11.20" height="6.12" fill="#eb9b35"/>
<rect x="135.70" y="310.97" width="11.20" height="2.40" fill="#2f5f9e"/>
<rect x="135.70" y="305.18" width="11.20" height="6.04" fill="#da2a5c"/>
<rect x="135.70" y="303.94" width="11.20" height="1.49" fill="#6b2a7b"/>
<rect x="135.70" y="302.20" width="11.20" height="1.99" fill="#8b8a3a"/>
<rect x="135.70" y="300.71" width="11.20" height="1.74" fill="#686868"/>
<rect x="135.70" y="298.07" width="11.20" height="2.90" fill="#7f3e9d"/>
<rect x="135.70" y="290.96" width="11.20" height="7.36" fill="#2e3a8f"/>
<rect x="135.70" y="274.66" width="11.20" height="16.54" fill="#e32b2b"/>
<rect x="135.70" y="272.43" width="11.20" height="2.48" fill="#0a0a0a"/>
<line x1="28.60" y1="271.60" x2="28.60" y2="355.35" stroke="#0a0a0a" stroke-width="1.2"/>
<line x1="28.05" y1="354.80" x2="152.30" y2="354.80" stroke="#0a0a0a" stroke-width="1.2"/>
<line x1="24.80" y1="354.80" x2="28.60" y2="354.80" stroke="#0a0a0a" stroke-width="1.2"/>
<text transform="translate(24.50 357.95) scale(0.9 1)" font-size="8.8" font-weight="bold" text-anchor="end" fill="#050505">0</text>
<line x1="24.80" y1="338.26" x2="28.60" y2="338.26" stroke="#0a0a0a" stroke-width="1.2"/>
<text transform="translate(24.50 341.41) scale(0.9 1)" font-size="8.8" font-weight="bold" text-anchor="end" fill="#050505">20</text>
<line x1="24.80" y1="321.72" x2="28.60" y2="321.72" stroke="#0a0a0a" stroke-width="1.2"/>
<text transform="translate(24.50 324.87) scale(0.9 1)" font-size="8.8" font-weight="bold" text-anchor="end" fill="#050505">40</text>
<line x1="24.80" y1="305.18" x2="28.60" y2="305.18" stroke="#0a0a0a" stroke-width="1.2"/>
<text transform="translate(24.50 308.33) scale(0.9 1)" font-size="8.8" font-weight="bold" text-anchor="end" fill="#050505">60</text>
<line x1="24.80" y1="288.64" x2="28.60" y2="288.64" stroke="#0a0a0a" stroke-width="1.2"/>
<text transform="translate(24.50 291.79) scale(0.9 1)" font-size="8.8" font-weight="bold" text-anchor="end" fill="#050505">80</text>
<line x1="24.80" y1="272.10" x2="28.60" y2="272.10" stroke="#0a0a0a" stroke-width="1.2"/>
<text transform="translate(24.50 275.25) scale(0.9 1)" font-size="8.8" font-weight="bold" text-anchor="end" fill="#050505">100</text>
<line x1="39.90" y1="354.80" x2="39.90" y2="358.80" stroke="#0a0a0a" stroke-width="1.2"/>
<text x="41.80" y="366.20" font-size="7.8" font-weight="bold" text-anchor="end" fill="#050505" transform="rotate(-45 41.80 366.20)">High-oat cntl</text>
<line x1="56.80" y1="354.80" x2="56.80" y2="358.80" stroke="#0a0a0a" stroke-width="1.2"/>
<text x="58.70" y="366.20" font-size="7.8" font-weight="bold" text-anchor="end" fill="#050505" transform="rotate(-45 58.70 366.20)">High-oat irr</text>
<line x1="73.70" y1="354.80" x2="73.70" y2="358.80" stroke="#0a0a0a" stroke-width="1.2"/>
<text x="75.60" y="366.20" font-size="7.8" font-weight="bold" text-anchor="end" fill="#050505" transform="rotate(-45 75.60 366.20)">Medium-oat irr</text>
<line x1="90.60" y1="354.80" x2="90.60" y2="358.80" stroke="#0a0a0a" stroke-width="1.2"/>
<text x="92.50" y="366.20" font-size="7.8" font-weight="bold" text-anchor="end" fill="#050505" transform="rotate(-45 92.50 366.20)">Low-oat irr</text>
<line x1="107.50" y1="354.80" x2="107.50" y2="358.80" stroke="#0a0a0a" stroke-width="1.2"/>
<text x="109.40" y="366.20" font-size="7.8" font-weight="bold" text-anchor="end" fill="#050505" transform="rotate(-45 109.40 366.20)">No-oat irr</text>
<line x1="124.40" y1="354.80" x2="124.40" y2="358.80" stroke="#0a0a0a" stroke-width="1.2"/>
<text x="126.30" y="366.20" font-size="7.8" font-weight="bold" text-anchor="end" fill="#050505" transform="rotate(-45 126.30 366.20)">No-fiber irr</text>
<line x1="141.30" y1="354.80" x2="141.30" y2="358.80" stroke="#0a0a0a" stroke-width="1.2"/>
<text x="143.20" y="366.20" font-size="7.8" font-weight="bold" text-anchor="end" fill="#050505" transform="rotate(-45 143.20 366.20)">No-fiber cntl</text>
<text x="89.40" y="260.40" font-size="8.7" font-weight="bold" text-anchor="middle" fill="#050505">3 weeks after irradiation</text>
<text x="7.60" y="313.45" font-size="8.0" font-weight="bold" text-anchor="middle" fill="#050505" transform="rotate(-90 7.60 313.45)">Relative abundance (%)</text>
<text x="91.50" y="415.90" font-size="9.3" font-weight="bold" text-anchor="middle" fill="#050505">Diet</text>
<text x="0.60" y="240.90" font-size="12.5" font-weight="bold" text-anchor="start" fill="#050505">D</text>
<rect x="227.40" y="353.91" width="11.20" height="1.24" fill="#a81f24"/>
<rect x="227.40" y="319.09" width="11.20" height="35.07" fill="#9c5d29"/>
<rect x="227.40" y="314.71" width="11.20" height="4.63" fill="#9aaa3c"/>
<rect x="227.40" y="313.14" width="11.20" height="1.82" fill="#dd8236"/>
<rect x="227.40" y="312.14" width="11.20" height="1.24" fill="#b0246a"/>
<rect x="227.40" y="310.57" width="11.20" height="1.82" fill="#3c9c50"/>
<rect x="227.40" y="297.75" width="11.20" height="13.07" fill="#eb9b35"/>
<rect x="227.40" y="297.26" width="11.20" height="0.75" fill="#4f5a2a"/>
<rect x="227.40" y="293.21" width="11.20" height="4.30" fill="#5cb8e6"/>
<rect x="227.40" y="290.39" width="11.20" height="3.06" fill="#da2a5c"/>
<rect x="227.40" y="288.57" width="11.20" height="2.07" fill="#e0677a"/>
<rect x="227.40" y="286.51" width="11.20" height="2.32" fill="#8b8a3a"/>
<rect x="227.40" y="283.45" width="11.20" height="3.31" fill="#686868"/>
<rect x="227.40" y="280.22" width="11.20" height="3.48" fill="#7f3e9d"/>
<rect x="227.40" y="274.76" width="11.20" height="5.71" fill="#e32b2b"/>
<rect x="227.40" y="272.20" width="11.20" height="2.81" fill="#0a0a0a"/>
<rect x="244.30" y="353.91" width="11.20" height="1.24" fill="#a81f24"/>
<rect x="244.30" y="318.26" width="11.20" height="35.89" fill="#9c5d29"/>
<rect x="244.30" y="314.96" width="11.20" height="3.56" fill="#9aaa3c"/>
<rect x="244.30" y="312.64" width="11.20" height="2.57" fill="#dd8236"/>
<rect x="244.30" y="310.08" width="11.20" height="2.81" fill="#3c9c50"/>
<rect x="244.30" y="298.33" width="11.20" height="11.99" fill="#eb9b35"/>
<rect x="244.30" y="297.26" width="11.20" height="1.33" fill="#4f5a2a"/>
<rect x="244.30" y="292.13" width="11.20" height="5.38" fill="#da2a5c"/>
<rect x="244.30" y="291.14" width="11.20" height="1.24" fill="#e0677a"/>
<rect x="244.30" y="289.82" width="11.20" height="1.57" fill="#8b8a3a"/>
<rect x="244.30" y="288.08" width="11.20" height="1.99" fill="#686868"/>
<rect x="244.30" y="284.69" width="11.20" height="3.64" fill="#7f3e9d"/>
<rect x="244.30" y="275.09" width="11.20" height="9.84" fill="#e32b2b"/>
<rect x="244.30" y="272.20" width="11.20" height="3.14" fill="#0a0a0a"/>
<rect x="261.20" y="353.25" width="11.20" height="1.90" fill="#a81f24"/>
<rect x="261.20" y="352.25" width="11.20" height="1.24" fill="#3c4fa5"/>
<rect x="261.20" y="327.44" width="11.20" height="25.06" fill="#9c5d29"/>
<rect x="261.20" y="323.89" width="11.20" height="3.81" fill="#9aaa3c"/>
<rect x="261.20" y="321.16" width="11.20" height="2.98" fill="#dd8236"/>
<rect x="261.20" y="319.84" width="11.20" height="1.57" fill="#b0246a"/>
<rect x="261.20" y="317.27" width="11.20" height="2.81" fill="#3c9c50"/>
<rect x="261.20" y="315.37" width="11.20" height="2.15" fill="#7462b3"/>
<rect x="261.20" y="302.39" width="11.20" height="13.23" fill="#eb9b35"/>
<rect x="261.20" y="301.39" width="11.20" height="1.24" fill="#4f5a2a"/>
<rect x="261.20" y="297.75" width="11.20" height="3.89" fill="#da2a5c"/>
<rect x="261.20" y="295.77" width="11.20" height="2.23" fill="#e0677a"/>
<rect x="261.20" y="293.87" width="11.20" height="2.15" fill="#8b8a3a"/>
<rect x="261.20" y="290.15" width="11.20" height="3.97" fill="#686868"/>
<rect x="261.20" y="285.51" width="11.20" height="4.88" fill="#7f3e9d"/>
<rect x="261.20" y="284.52" width="11.20" height="1.24" fill="#2e3a8f"/>
<rect x="261.20" y="274.43" width="11.20" height="10.34" fill="#e32b2b"/>
<rect x="261.20" y="273.03" width="11.20" height="1.66" fill="#0a0a0a"/>
<rect x="278.10" y="352.58" width="11.20" height="2.57" fill="#a81f24"/>
<rect x="278.10" y="335.13" width="11.20" height="17.70" fill="#9c5d29"/>
<rect x="278.10" y="334.14" width="11.20" height="1.24" fill="#9aaa3c"/>
<rect x="278.10" y="331.08" width="11.20" height="3.31" fill="#dd8236"/>
<rect x="278.10" y="330.01" width="11.20" height="1.33" fill="#b0246a"/>
<rect x="278.10" y="326.20" width="11.20" height="4.05" fill="#3c9c50"/>
<rect x="278.10" y="325.62" width="11.20" height="0.83" fill="#40a39a"/>
<rect x="278.10" y="300.07" width="11.20" height="25.80" fill="#eb9b35"/>
<rect x="278.10" y="298.33" width="11.20" height="1.99" fill="#4f5a2a"/>
<rect x="278.10" y="297.67" width="11.20" height="0.91" fill="#7462b3"/>
<rect x="278.10" y="292.13" width="11.20" height="5.79" fill="#da2a5c"/>
<rect x="278.10" y="290.81" width="11.20" height="1.57" fill="#6b2a7b"/>
<rect x="278.10" y="288.57" width="11.20" height="2.48" fill="#8b8a3a"/>
<rect x="278.10" y="284.69" width="11.20" height="4.14" fill="#7f3e9d"/>
<rect x="278.10" y="282.95" width="11.20" height="1.99" fill="#2e3a8f"/>
<rect x="278.10" y="274.02" width="11.20" height="9.18" fill="#e32b2b"/>
<rect x="278.10" y="273.03" width="11.20" height="1.24" fill="#0a0a0a"/>
<rect x="295.00" y="347.29" width="11.20" height="7.86" fill="#a81f24"/>
<rect x="295.00" y="335.38" width="11.20" height="12.16" fill="#9c5d29"/>
<rect x="295.00" y="326.29" width="11.20" height="9.35" fill="#dd8236"/>
<rect x="295.00" y="323.06" width="11.20" height="3.48" fill="#b0246a"/>
<rect x="295.00" y="319.42" width="11.20" height="3.89" fill="#3c9c50"/>
<rect x="295.00" y="315.20" width="11.20" height="4.47" fill="#40a39a"/>
<rect x="295.00" y="299.41" width="11.20" height="16.05" fill="#eb9b35"/>
<rect x="295.00" y="294.28" width="11.20" height="5.38" fill="#da2a5c"/>
<rect x="295.00" y="293.04" width="11.20" height="1.49" fill="#6b2a7b"/>
<rect x="295.00" y="291.06" width="11.20" height="2.23" fill="#8b8a3a"/>
<rect x="295.00" y="290.06" width="11.20" height="1.24" fill="#7f3e9d"/>
<rect x="295.00" y="282.54" width="11.20" height="7.78" fill="#b0622e"/>
<rect x="295.00" y="276.09" width="11.20" height="6.70" fill="#e32b2b"/>
<rect x="295.00" y="272.20" width="11.20" height="4.14" fill="#0a0a0a"/>
<rect x="311.90" y="349.03" width="11.20" height="6.12" fill="#a81f24"/>
<rect x="311.90" y="334.06" width="11.20" height="15.22" fill="#9c5d29"/>
<rect x="311.90" y="329.18" width="11.20" height="5.13" fill="#dd8236"/>
<rect x="311.90" y="326.53" width="11.20" height="2.90" fill="#b0246a"/>
<rect x="311.90" y="320.41" width="11.20" height="6.37" fill="#3c9c50"/>
<rect x="311.90" y="319.42" width="11.20" height="1.24" fill="#7462b3"/>
<rect x="311.90" y="311.57" width="11.20" height="8.11" fill="#eb9b35"/>
<rect x="311.90" y="302.47" width="11.20" height="9.35" fill="#da2a5c"/>
<rect x="311.90" y="301.14" width="11.20" height="1.57" fill="#6b2a7b"/>
<rect x="311.90" y="299.41" width="11.20" height="1.99" fill="#8b8a3a"/>
<rect x="311.90" y="296.93" width="11.20" height="2.73" fill="#7f3e9d"/>
<rect x="311.90" y="294.53" width="11.20" height="2.65" fill="#b0622e"/>
<rect x="311.90" y="290.06" width="11.20" height="4.72" fill="#2e3a8f"/>
<rect x="311.90" y="289.07" width="11.20" height="1.24" fill="#979797"/>
<rect x="311.90" y="275.09" width="11.20" height="14.23" fill="#e32b2b"/>
<rect x="311.90" y="272.20" width="11.20" height="3.14" fill="#0a0a0a"/>
<rect x="328.80" y="348.28" width="11.20" height="6.87" fill="#a81f24"/>
<rect x="328.80" y="327.20" width="11.20" height="21.34" fill="#9c5d29"/>
<rect x="328.80" y="322.32" width="11.20" height="5.13" fill="#dd8236"/>
<rect x="328.80" y="319.92" width="11.20" height="2.65" fill="#b0246a"/>
<rect x="328.80" y="315.04" width="11.20" height="5.13" fill="#3c9c50"/>
<rect x="328.80" y="314.05" width="11.20" height="1.24" fill="#40a39a"/>
<rect x="328.80" y="307.18" width="11.20" height="7.11" fill="#eb9b35"/>
<rect x="328.80" y="305.45" width="11.20" height="1.99" fill="#2f5f9e"/>
<rect x="328.80" y="300.32" width="11.20" height="5.38" fill="#da2a5c"/>
<rect x="328.80" y="298.91" width="11.20" height="1.66" fill="#6b2a7b"/>
<rect x="328.80" y="297.42" width="11.20" height="1.74" fill="#8b8a3a"/>
<rect x="328.80" y="295.44" width="11.20" height="2.23" fill="#686868"/>
<rect x="328.80" y="293.54" width="11.20" height="2.15" fill="#7f3e9d"/>
<rect x="328.80" y="292.30" width="11.20" height="1.49" fill="#b0622e"/>
<rect x="328.80" y="288.41" width="11.20" height="4.14" fill="#2e3a8f"/>
<rect x="328.80" y="274.93" width="11.20" height="13.73" fill="#e32b2b"/>
<rect x="328.80" y="273.19" width="11.20" height="1.99" fill="#0a0a0a"/>
<line x1="221.70" y1="271.70" x2="221.70" y2="355.45" stroke="#0a0a0a" stroke-width="1.2"/>
<line x1="221.15" y1="354.90" x2="346.00" y2="354.90" stroke="#0a0a0a" stroke-width="1.2"/>
<line x1="217.90" y1="354.90" x2="221.70" y2="354.90" stroke="#0a0a0a" stroke-width="1.2"/>
<text transform="translate(217.60 358.05) scale(0.9 1)" font-size="8.8" font-weight="bold" text-anchor="end" fill="#050505">0</text>
<line x1="217.90" y1="338.36" x2="221.70" y2="338.36" stroke="#0a0a0a" stroke-width="1.2"/>
<text transform="translate(217.60 341.51) scale(0.9 1)" font-size="8.8" font-weight="bold" text-anchor="end" fill="#050505">20</text>
<line x1="217.90" y1="321.82" x2="221.70" y2="321.82" stroke="#0a0a0a" stroke-width="1.2"/>
<text transform="translate(217.60 324.97) scale(0.9 1)" font-size="8.8" font-weight="bold" text-anchor="end" fill="#050505">40</text>
<line x1="217.90" y1="305.28" x2="221.70" y2="305.28" stroke="#0a0a0a" stroke-width="1.2"/>
<text transform="translate(217.60 308.43) scale(0.9 1)" font-size="8.8" font-weight="bold" text-anchor="end" fill="#050505">60</text>
<line x1="217.90" y1="288.74" x2="221.70" y2="288.74" stroke="#0a0a0a" stroke-width="1.2"/>
<text transform="translate(217.60 291.89) scale(0.9 1)" font-size="8.8" font-weight="bold" text-anchor="end" fill="#050505">80</text>
<line x1="217.90" y1="272.20" x2="221.70" y2="272.20" stroke="#0a0a0a" stroke-width="1.2"/>
<text transform="translate(217.60 275.35) scale(0.9 1)" font-size="8.8" font-weight="bold" text-anchor="end" fill="#050505">100</text>
<line x1="233.00" y1="354.90" x2="233.00" y2="358.90" stroke="#0a0a0a" stroke-width="1.2"/>
<text x="234.90" y="366.30" font-size="7.8" font-weight="bold" text-anchor="end" fill="#050505" transform="rotate(-45 234.90 366.30)">High-oat cntl</text>
<line x1="249.90" y1="354.90" x2="249.90" y2="358.90" stroke="#0a0a0a" stroke-width="1.2"/>
<text x="251.80" y="366.30" font-size="7.8" font-weight="bold" text-anchor="end" fill="#050505" transform="rotate(-45 251.80 366.30)">High-oat irr</text>
<line x1="266.80" y1="354.90" x2="266.80" y2="358.90" stroke="#0a0a0a" stroke-width="1.2"/>
<text x="268.70" y="366.30" font-size="7.8" font-weight="bold" text-anchor="end" fill="#050505" transform="rotate(-45 268.70 366.30)">Medium-oat irr</text>
<line x1="283.70" y1="354.90" x2="283.70" y2="358.90" stroke="#0a0a0a" stroke-width="1.2"/>
<text x="285.60" y="366.30" font-size="7.8" font-weight="bold" text-anchor="end" fill="#050505" transform="rotate(-45 285.60 366.30)">Low-oat irr</text>
<line x1="300.60" y1="354.90" x2="300.60" y2="358.90" stroke="#0a0a0a" stroke-width="1.2"/>
<text x="302.50" y="366.30" font-size="7.8" font-weight="bold" text-anchor="end" fill="#050505" transform="rotate(-45 302.50 366.30)">No-oat irr</text>
<line x1="317.50" y1="354.90" x2="317.50" y2="358.90" stroke="#0a0a0a" stroke-width="1.2"/>
<text x="319.40" y="366.30" font-size="7.8" font-weight="bold" text-anchor="end" fill="#050505" transform="rotate(-45 319.40 366.30)">No-fiber irr</text>
<line x1="334.40" y1="354.90" x2="334.40" y2="358.90" stroke="#0a0a0a" stroke-width="1.2"/>
<text x="336.30" y="366.30" font-size="7.8" font-weight="bold" text-anchor="end" fill="#050505" transform="rotate(-45 336.30 366.30)">No-fiber cntl</text>
<text x="282.50" y="260.40" font-size="8.7" font-weight="bold" text-anchor="middle" fill="#050505">6 weeks after irradiation</text>
<text x="200.50" y="313.55" font-size="8.0" font-weight="bold" text-anchor="middle" fill="#050505" transform="rotate(-90 200.50 313.55)">Relative abundance (%)</text>
<text x="284.60" y="415.70" font-size="9.3" font-weight="bold" text-anchor="middle" fill="#050505">Diet</text>
<text x="194.30" y="241.30" font-size="12.5" font-weight="bold" text-anchor="start" fill="#050505">E</text>
<rect x="387.60" y="234.20" width="11.40" height="6.20" fill="#0a0a0a"/>
<text x="405.40" y="239.80" font-size="8.7" font-weight="normal" text-anchor="start" fill="#141414">others</text>
<rect x="387.60" y="249.30" width="11.40" height="6.20" fill="#e32b2b"/>
<text x="405.40" y="254.90" font-size="8.7" font-weight="normal" text-anchor="start" fill="#141414">Akkermansia</text>
<rect x="387.60" y="264.40" width="11.40" height="6.20" fill="#dc8435"/>
<text x="405.40" y="270.00" font-size="8.7" font-weight="normal" text-anchor="start" fill="#141414">Enterobacter</text>
<rect x="387.60" y="279.50" width="11.40" height="6.20" fill="#979797"/>
<text x="405.40" y="285.10" font-size="8.7" font-weight="normal" text-anchor="start" fill="#141414">Turicibacter</text>
<rect x="387.60" y="294.60" width="11.40" height="6.20" fill="#2e3a8f"/>
<text x="405.40" y="300.20" font-size="8.7" font-weight="normal" text-anchor="start" fill="#141414">Holdemanella</text>
<rect x="387.60" y="309.70" width="11.40" height="6.20" fill="#b0622e"/>
<text x="405.40" y="315.30" font-size="8.7" font-weight="normal" text-anchor="start" fill="#141414">Faecalibaculum</text>
<rect x="387.60" y="324.80" width="11.40" height="6.20" fill="#7f3e9d"/>
<text x="405.40" y="330.40" font-size="8.7" font-weight="normal" text-anchor="start" fill="#141414">Ruminococcaceae others</text>
<rect x="387.60" y="339.90" width="11.40" height="6.20" fill="#686868"/>
<text x="405.40" y="345.50" font-size="8.7" font-weight="normal" text-anchor="start" fill="#141414">Ruminococcaceae UCG-014</text>
<rect x="387.60" y="355.00" width="11.40" height="6.20" fill="#8b8a3a"/>
<text x="405.40" y="360.60" font-size="8.7" font-weight="normal" text-anchor="start" fill="#141414">Ruminiclostridium 9</text>
<rect x="387.60" y="370.10" width="11.40" height="6.20" fill="#6b2a7b"/>
<text x="405.40" y="375.70" font-size="8.7" font-weight="normal" text-anchor="start" fill="#141414">Ruminiclostridium</text>
<rect x="387.60" y="385.20" width="11.40" height="6.20" fill="#e0677a"/>
<text x="405.40" y="390.80" font-size="8.7" font-weight="normal" text-anchor="start" fill="#141414">Oscillibacter</text>
<rect x="387.60" y="400.30" width="11.40" height="6.20" fill="#da2a5c"/>
<text x="405.40" y="405.90" font-size="8.7" font-weight="normal" text-anchor="start" fill="#141414">Lachnospiraceae others</text>
<rect x="387.60" y="415.40" width="11.40" height="6.20" fill="#5cb8e6"/>
<text x="405.40" y="421.00" font-size="8.7" font-weight="normal" text-anchor="start" fill="#141414">Roseburia</text>
<rect x="535.80" y="234.20" width="11.40" height="6.20" fill="#2f5f9e"/>
<text x="553.60" y="239.80" font-size="8.7" font-weight="normal" text-anchor="start" fill="#141414">Oribacterium</text>
<rect x="535.80" y="249.30" width="11.40" height="6.20" fill="#4f5a2a"/>
<text x="553.60" y="254.90" font-size="8.7" font-weight="normal" text-anchor="start" fill="#141414">Lachnospiraceae UCG-001</text>
<rect x="535.80" y="264.40" width="11.40" height="6.20" fill="#eb9b35"/>
<text x="553.60" y="270.00" font-size="8.7" font-weight="normal" text-anchor="start" fill="#141414">Lachnospiraceae NK4A136 group</text>
<rect x="535.80" y="279.50" width="11.40" height="6.20" fill="#7462b3"/>
<text x="553.60" y="285.10" font-size="8.7" font-weight="normal" text-anchor="start" fill="#141414">Lachnoclostridium</text>
<rect x="535.80" y="294.60" width="11.40" height="6.20" fill="#40a39a"/>
<text x="553.60" y="300.20" font-size="8.7" font-weight="normal" text-anchor="start" fill="#141414">Blautia</text>
<rect x="535.80" y="309.70" width="11.40" height="6.20" fill="#3c9c50"/>
<text x="553.60" y="315.30" font-size="8.7" font-weight="normal" text-anchor="start" fill="#141414">Lactobacillus</text>
<rect x="535.80" y="324.80" width="11.40" height="6.20" fill="#a040a8"/>
<text x="553.60" y="330.40" font-size="8.7" font-weight="normal" text-anchor="start" fill="#141414">Mucispirillum</text>
<rect x="535.80" y="339.90" width="11.40" height="6.20" fill="#b0246a"/>
<text x="553.60" y="345.50" font-size="8.7" font-weight="normal" text-anchor="start" fill="#141414">Parabacteroides</text>
<rect x="535.80" y="355.00" width="11.40" height="6.20" fill="#dd8236"/>
<text x="553.60" y="360.60" font-size="8.7" font-weight="normal" text-anchor="start" fill="#141414">Alistipes</text>
<rect x="535.80" y="370.10" width="11.40" height="6.20" fill="#9aaa3c"/>
<text x="553.60" y="375.70" font-size="8.7" font-weight="normal" text-anchor="start" fill="#141414">Prevotellaceae UCG-001</text>
<rect x="535.80" y="385.20" width="11.40" height="6.20" fill="#9c5d29"/>
<text x="553.60" y="390.80" font-size="8.7" font-weight="normal" text-anchor="start" fill="#141414">Muribaculaceae unclassified</text>
<rect x="535.80" y="400.30" width="11.40" height="6.20" fill="#3c4fa5"/>
<text x="553.60" y="405.90" font-size="8.7" font-weight="normal" text-anchor="start" fill="#141414">Bacteroides</text>
<rect x="535.80" y="415.40" width="11.40" height="6.20" fill="#a81f24"/>
<text x="553.60" y="421.00" font-size="8.7" font-weight="normal" text-anchor="start" fill="#141414">Bifidobacterium</text>
<line x1="31.90" y1="499.30" x2="31.90" y2="623.95" stroke="#0a0a0a" stroke-width="1.2"/>
<line x1="27.40" y1="623.40" x2="31.90" y2="623.40" stroke="#0a0a0a" stroke-width="1.2"/>
<text transform="translate(24.40 627.05) scale(0.93 1)" font-size="10.2" font-weight="bold" text-anchor="end" fill="#050505">0</text>
<line x1="27.40" y1="598.68" x2="31.90" y2="598.68" stroke="#0a0a0a" stroke-width="1.2"/>
<text transform="translate(24.40 602.33) scale(0.93 1)" font-size="10.2" font-weight="bold" text-anchor="end" fill="#050505">5</text>
<line x1="27.40" y1="573.96" x2="31.90" y2="573.96" stroke="#0a0a0a" stroke-width="1.2"/>
<text transform="translate(24.40 577.61) scale(0.93 1)" font-size="10.2" font-weight="bold" text-anchor="end" fill="#050505">10</text>
<line x1="27.40" y1="549.24" x2="31.90" y2="549.24" stroke="#0a0a0a" stroke-width="1.2"/>
<text transform="translate(24.40 552.89) scale(0.93 1)" font-size="10.2" font-weight="bold" text-anchor="end" fill="#050505">15</text>
<line x1="27.40" y1="524.52" x2="31.90" y2="524.52" stroke="#0a0a0a" stroke-width="1.2"/>
<text transform="translate(24.40 528.17) scale(0.93 1)" font-size="10.2" font-weight="bold" text-anchor="end" fill="#050505">20</text>
<line x1="27.40" y1="499.80" x2="31.90" y2="499.80" stroke="#0a0a0a" stroke-width="1.2"/>
<text transform="translate(24.40 503.45) scale(0.93 1)" font-size="10.2" font-weight="bold" text-anchor="end" fill="#050505">25</text>
<line x1="31.35" y1="623.40" x2="155.90" y2="623.40" stroke="#0a0a0a" stroke-width="1.2"/>
<g stroke="#8d26a5" stroke-opacity="0.78" stroke-width="1.0">
<line x1="50.60" y1="592.25" x2="50.60" y2="584.34"/>
<line x1="45.60" y1="592.25" x2="55.60" y2="592.25"/>
<line x1="45.60" y1="584.34" x2="55.60" y2="584.34"/>
</g>
<circle cx="54.40" cy="573.96" r="2.6" fill="#8d26a5"/>
<circle cx="47.00" cy="577.92" r="2.6" fill="#8d26a5"/>
<circle cx="50.60" cy="593.74" r="2.6" fill="#8d26a5"/>
<circle cx="57.90" cy="589.78" r="2.6" fill="#8d26a5"/>
<circle cx="43.50" cy="598.19" r="2.6" fill="#8d26a5"/>
<circle cx="57.90" cy="595.71" r="2.6" fill="#8d26a5"/>
<line x1="41.00" y1="588.30" x2="60.20" y2="588.30" stroke="#8d26a5" stroke-width="1.15"/>
<g stroke="#b868c6" stroke-opacity="0.78" stroke-width="1.0">
<line x1="79.50" y1="573.96" x2="79.50" y2="566.05"/>
<line x1="74.50" y1="573.96" x2="84.50" y2="573.96"/>
<line x1="74.50" y1="566.05" x2="84.50" y2="566.05"/>
</g>
<circle cx="79.50" cy="556.16" r="2.6" fill="#b868c6"/>
<circle cx="79.50" cy="562.59" r="2.6" fill="#b868c6"/>
<circle cx="72.30" cy="570.50" r="2.6" fill="#b868c6"/>
<circle cx="86.90" cy="569.02" r="2.6" fill="#b868c6"/>
<circle cx="72.30" cy="580.88" r="2.6" fill="#b868c6"/>
<circle cx="86.90" cy="580.88" r="2.6" fill="#b868c6"/>
<line x1="69.90" y1="570.00" x2="89.10" y2="570.00" stroke="#b868c6" stroke-width="1.15"/>
<g stroke="#e8302c" stroke-opacity="0.78" stroke-width="1.0">
<line x1="108.10" y1="551.71" x2="108.10" y2="532.43"/>
<line x1="103.10" y1="551.71" x2="113.10" y2="551.71"/>
<line x1="103.10" y1="532.43" x2="113.10" y2="532.43"/>
</g>
<circle cx="108.10" cy="513.64" r="2.6" fill="#e8302c"/>
<circle cx="108.10" cy="522.54" r="2.6" fill="#e8302c"/>
<circle cx="108.10" cy="538.36" r="2.6" fill="#e8302c"/>
<circle cx="100.90" cy="548.25" r="2.6" fill="#e8302c"/>
<circle cx="115.30" cy="550.72" r="2.6" fill="#e8302c"/>
<circle cx="108.10" cy="578.90" r="2.6" fill="#e8302c"/>
<line x1="98.50" y1="542.32" x2="117.70" y2="542.32" stroke="#e8302c" stroke-width="1.15"/>
<g stroke="#e8727a" stroke-opacity="0.78" stroke-width="1.0">
<line x1="137.00" y1="548.75" x2="137.00" y2="531.44"/>
<line x1="132.00" y1="548.75" x2="142.00" y2="548.75"/>
<line x1="132.00" y1="531.44" x2="142.00" y2="531.44"/>
</g>
<circle cx="137.00" cy="512.16" r="2.6" fill="#e8727a"/>
<circle cx="137.00" cy="521.55" r="2.6" fill="#e8727a"/>
<circle cx="137.00" cy="533.42" r="2.6" fill="#e8727a"/>
<circle cx="129.80" cy="553.20" r="2.6" fill="#e8727a"/>
<circle cx="144.20" cy="556.16" r="2.6" fill="#e8727a"/>
<circle cx="137.00" cy="565.06" r="2.6" fill="#e8727a"/>
<line x1="127.40" y1="540.34" x2="146.60" y2="540.34" stroke="#e8727a" stroke-width="1.15"/>
<line x1="50.60" y1="623.40" x2="50.60" y2="628.20" stroke="#0a0a0a" stroke-width="1.2"/>
<text x="53.00" y="637.30" font-size="9.5" font-weight="bold" text-anchor="end" fill="#050505" transform="rotate(-45 53.00 637.30)">High-oat cntl</text>
<line x1="79.50" y1="623.40" x2="79.50" y2="628.20" stroke="#0a0a0a" stroke-width="1.2"/>
<text x="81.90" y="637.30" font-size="9.5" font-weight="bold" text-anchor="end" fill="#050505" transform="rotate(-45 81.90 637.30)">High-oat irr</text>
<line x1="108.10" y1="623.40" x2="108.10" y2="628.20" stroke="#0a0a0a" stroke-width="1.2"/>
<text x="110.50" y="637.30" font-size="9.5" font-weight="bold" text-anchor="end" fill="#050505" transform="rotate(-45 110.50 637.30)">No-fiber cntl</text>
<line x1="137.00" y1="623.40" x2="137.00" y2="628.20" stroke="#0a0a0a" stroke-width="1.2"/>
<text x="139.40" y="637.30" font-size="9.5" font-weight="bold" text-anchor="end" fill="#050505" transform="rotate(-45 139.40 637.30)">No-fiber irr</text>
<text x="8.60" y="561.60" font-size="10.2" font-weight="bold" text-anchor="middle" fill="#050505" transform="rotate(-90 8.60 561.60)">Akkermansia (%)</text>
<text x="0.60" y="473.70" font-size="12" font-weight="bold" text-anchor="start" fill="#050505">F</text>
<line x1="229.50" y1="499.20" x2="229.50" y2="624.15" stroke="#0a0a0a" stroke-width="1.2"/>
<line x1="225.00" y1="623.60" x2="229.50" y2="623.60" stroke="#0a0a0a" stroke-width="1.2"/>
<text transform="translate(222.00 627.25) scale(0.93 1)" font-size="10.2" font-weight="bold" text-anchor="end" fill="#050505">0.0</text>
<line x1="225.00" y1="592.62" x2="229.50" y2="592.62" stroke="#0a0a0a" stroke-width="1.2"/>
<text transform="translate(222.00 596.27) scale(0.93 1)" font-size="10.2" font-weight="bold" text-anchor="end" fill="#050505">0.5</text>
<line x1="225.00" y1="561.65" x2="229.50" y2="561.65" stroke="#0a0a0a" stroke-width="1.2"/>
<text transform="translate(222.00 565.30) scale(0.93 1)" font-size="10.2" font-weight="bold" text-anchor="end" fill="#050505">1.0</text>
<line x1="225.00" y1="530.67" x2="229.50" y2="530.67" stroke="#0a0a0a" stroke-width="1.2"/>
<text transform="translate(222.00 534.32) scale(0.93 1)" font-size="10.2" font-weight="bold" text-anchor="end" fill="#050505">1.5</text>
<line x1="225.00" y1="499.70" x2="229.50" y2="499.70" stroke="#0a0a0a" stroke-width="1.2"/>
<text transform="translate(222.00 503.35) scale(0.93 1)" font-size="10.2" font-weight="bold" text-anchor="end" fill="#050505">2.0</text>
<line x1="228.95" y1="623.60" x2="353.80" y2="623.60" stroke="#0a0a0a" stroke-width="1.2"/>
<g stroke="#8d26a5" stroke-opacity="0.78" stroke-width="1.0">
<line x1="248.50" y1="608.11" x2="248.50" y2="581.47"/>
<line x1="243.50" y1="608.11" x2="253.50" y2="608.11"/>
<line x1="243.50" y1="581.47" x2="253.50" y2="581.47"/>
</g>
<circle cx="248.50" cy="530.67" r="2.6" fill="#8d26a5"/>
<circle cx="248.50" cy="592.01" r="2.6" fill="#8d26a5"/>
<circle cx="241.30" cy="606.87" r="2.6" fill="#8d26a5"/>
<circle cx="255.70" cy="603.78" r="2.6" fill="#8d26a5"/>
<circle cx="241.30" cy="617.40" r="2.6" fill="#8d26a5"/>
<circle cx="255.70" cy="616.79" r="2.6" fill="#8d26a5"/>
<line x1="238.90" y1="594.48" x2="258.10" y2="594.48" stroke="#8d26a5" stroke-width="1.15"/>
<g stroke="#b868c6" stroke-opacity="0.78" stroke-width="1.0">
<line x1="277.10" y1="611.83" x2="277.10" y2="606.87"/>
<line x1="272.10" y1="611.83" x2="282.10" y2="611.83"/>
<line x1="272.10" y1="606.87" x2="282.10" y2="606.87"/>
</g>
<circle cx="277.10" cy="603.78" r="2.6" fill="#b868c6"/>
<circle cx="270.10" cy="608.11" r="2.6" fill="#b868c6"/>
<circle cx="284.30" cy="608.73" r="2.6" fill="#b868c6"/>
<circle cx="277.10" cy="609.35" r="2.6" fill="#b868c6"/>
<circle cx="277.10" cy="617.40" r="2.6" fill="#b868c6"/>
<line x1="267.50" y1="609.35" x2="286.70" y2="609.35" stroke="#b868c6" stroke-width="1.15"/>
<g stroke="#e8302c" stroke-opacity="0.78" stroke-width="1.0">
<line x1="305.70" y1="590.15" x2="305.70" y2="571.56"/>
<line x1="300.70" y1="590.15" x2="310.70" y2="590.15"/>
<line x1="300.70" y1="571.56" x2="310.70" y2="571.56"/>
</g>
<circle cx="305.70" cy="536.87" r="2.6" fill="#e8302c"/>
<circle cx="305.70" cy="579.00" r="2.6" fill="#e8302c"/>
<circle cx="305.70" cy="587.67" r="2.6" fill="#e8302c"/>
<circle cx="298.70" cy="596.96" r="2.6" fill="#e8302c"/>
<circle cx="305.70" cy="592.62" r="2.6" fill="#e8302c"/>
<circle cx="313.00" cy="593.24" r="2.6" fill="#e8302c"/>
<line x1="296.10" y1="580.85" x2="315.30" y2="580.85" stroke="#e8302c" stroke-width="1.15"/>
<g stroke="#e8727a" stroke-opacity="0.78" stroke-width="1.0">
<line x1="334.30" y1="573.42" x2="334.30" y2="561.03"/>
<line x1="329.30" y1="573.42" x2="339.30" y2="573.42"/>
<line x1="329.30" y1="561.03" x2="339.30" y2="561.03"/>
</g>
<circle cx="334.30" cy="544.92" r="2.6" fill="#e8727a"/>
<circle cx="334.30" cy="556.69" r="2.6" fill="#e8727a"/>
<circle cx="327.50" cy="569.08" r="2.6" fill="#e8727a"/>
<circle cx="341.30" cy="567.85" r="2.6" fill="#e8727a"/>
<circle cx="334.30" cy="576.52" r="2.6" fill="#e8727a"/>
<circle cx="334.30" cy="588.29" r="2.6" fill="#e8727a"/>
<line x1="324.70" y1="567.23" x2="343.90" y2="567.23" stroke="#e8727a" stroke-width="1.15"/>
<line x1="248.50" y1="623.60" x2="248.50" y2="628.40" stroke="#0a0a0a" stroke-width="1.2"/>
<text x="250.90" y="637.50" font-size="9.5" font-weight="bold" text-anchor="end" fill="#050505" transform="rotate(-45 250.90 637.50)">High-oat cntl</text>
<line x1="277.10" y1="623.60" x2="277.10" y2="628.40" stroke="#0a0a0a" stroke-width="1.2"/>
<text x="279.50" y="637.50" font-size="9.5" font-weight="bold" text-anchor="end" fill="#050505" transform="rotate(-45 279.50 637.50)">High-oat irr</text>
<line x1="305.70" y1="623.60" x2="305.70" y2="628.40" stroke="#0a0a0a" stroke-width="1.2"/>
<text x="308.10" y="637.50" font-size="9.5" font-weight="bold" text-anchor="end" fill="#050505" transform="rotate(-45 308.10 637.50)">No-fiber cntl</text>
<line x1="334.30" y1="623.60" x2="334.30" y2="628.40" stroke="#0a0a0a" stroke-width="1.2"/>
<text x="336.70" y="637.50" font-size="9.5" font-weight="bold" text-anchor="end" fill="#050505" transform="rotate(-45 336.70 637.50)">No-fiber irr</text>
<text x="203.30" y="562.00" font-size="10.2" font-weight="bold" text-anchor="middle" fill="#050505" transform="rotate(-90 203.30 562.00)">Lachnoclostridium (%)</text>
<text x="195.60" y="474.20" font-size="12" font-weight="bold" text-anchor="start" fill="#050505">G</text>
<path d="M277.10 530.50V525.00H334.30V530.50" fill="none" stroke="#0a0a0a" stroke-width="1.2"/>
<text x="305.70" y="524.50" font-size="14" font-weight="bold" text-anchor="middle" fill="#050505">**</text>
<line x1="421.20" y1="499.20" x2="421.20" y2="624.15" stroke="#0a0a0a" stroke-width="1.2"/>
<line x1="416.70" y1="623.60" x2="421.20" y2="623.60" stroke="#0a0a0a" stroke-width="1.2"/>
<text transform="translate(413.70 627.25) scale(0.93 1)" font-size="10.2" font-weight="bold" text-anchor="end" fill="#050505">0.0</text>
<line x1="416.70" y1="598.82" x2="421.20" y2="598.82" stroke="#0a0a0a" stroke-width="1.2"/>
<text transform="translate(413.70 602.47) scale(0.93 1)" font-size="10.2" font-weight="bold" text-anchor="end" fill="#050505">0.2</text>
<line x1="416.70" y1="574.04" x2="421.20" y2="574.04" stroke="#0a0a0a" stroke-width="1.2"/>
<text transform="translate(413.70 577.69) scale(0.93 1)" font-size="10.2" font-weight="bold" text-anchor="end" fill="#050505">0.4</text>
<line x1="416.70" y1="549.26" x2="421.20" y2="549.26" stroke="#0a0a0a" stroke-width="1.2"/>
<text transform="translate(413.70 552.91) scale(0.93 1)" font-size="10.2" font-weight="bold" text-anchor="end" fill="#050505">0.6</text>
<line x1="416.70" y1="524.48" x2="421.20" y2="524.48" stroke="#0a0a0a" stroke-width="1.2"/>
<text transform="translate(413.70 528.13) scale(0.93 1)" font-size="10.2" font-weight="bold" text-anchor="end" fill="#050505">0.8</text>
<line x1="416.70" y1="499.70" x2="421.20" y2="499.70" stroke="#0a0a0a" stroke-width="1.2"/>
<text transform="translate(413.70 503.35) scale(0.93 1)" font-size="10.2" font-weight="bold" text-anchor="end" fill="#050505">1.0</text>
<line x1="420.65" y1="623.60" x2="545.40" y2="623.60" stroke="#0a0a0a" stroke-width="1.2"/>
<g stroke="#8d26a5" stroke-opacity="0.78" stroke-width="1.0">
<line x1="440.90" y1="622.61" x2="440.90" y2="620.38"/>
<line x1="435.90" y1="622.61" x2="445.90" y2="622.61"/>
<line x1="435.90" y1="620.38" x2="445.90" y2="620.38"/>
</g>
<circle cx="444.30" cy="616.91" r="2.6" fill="#8d26a5"/>
<circle cx="437.30" cy="620.63" r="2.6" fill="#8d26a5"/>
<circle cx="433.90" cy="622.73" r="2.6" fill="#8d26a5"/>
<circle cx="440.90" cy="622.98" r="2.6" fill="#8d26a5"/>
<circle cx="447.90" cy="623.23" r="2.6" fill="#8d26a5"/>
<circle cx="444.30" cy="622.11" r="2.6" fill="#8d26a5"/>
<line x1="431.30" y1="621.49" x2="450.50" y2="621.49" stroke="#8d26a5" stroke-width="1.15"/>
<g stroke="#b868c6" stroke-opacity="0.78" stroke-width="1.0">
<line x1="469.50" y1="619.51" x2="469.50" y2="613.32"/>
<line x1="464.50" y1="619.51" x2="474.50" y2="619.51"/>
<line x1="464.50" y1="613.32" x2="474.50" y2="613.32"/>
</g>
<circle cx="469.50" cy="601.30" r="2.6" fill="#b868c6"/>
<circle cx="462.50" cy="616.17" r="2.6" fill="#b868c6"/>
<circle cx="476.50" cy="616.54" r="2.6" fill="#b868c6"/>
<circle cx="469.50" cy="619.26" r="2.6" fill="#b868c6"/>
<circle cx="462.50" cy="622.98" r="2.6" fill="#b868c6"/>
<circle cx="476.50" cy="619.26" r="2.6" fill="#b868c6"/>
<line x1="459.90" y1="616.41" x2="479.10" y2="616.41" stroke="#b868c6" stroke-width="1.15"/>
<g stroke="#e8302c" stroke-opacity="0.78" stroke-width="1.0">
<line x1="498.10" y1="590.15" x2="498.10" y2="559.17"/>
<line x1="493.10" y1="590.15" x2="503.10" y2="590.15"/>
<line x1="493.10" y1="559.17" x2="503.10" y2="559.17"/>
</g>
<circle cx="498.10" cy="519.90" r="2.6" fill="#e8302c"/>
<circle cx="498.10" cy="540.96" r="2.6" fill="#e8302c"/>
<circle cx="498.10" cy="576.52" r="2.6" fill="#e8302c"/>
<circle cx="498.10" cy="585.19" r="2.6" fill="#e8302c"/>
<circle cx="491.10" cy="614.93" r="2.6" fill="#e8302c"/>
<circle cx="505.10" cy="611.95" r="2.6" fill="#e8302c"/>
<line x1="488.50" y1="574.91" x2="507.70" y2="574.91" stroke="#e8302c" stroke-width="1.15"/>
<g stroke="#e8727a" stroke-opacity="0.78" stroke-width="1.0">
<line x1="526.80" y1="596.34" x2="526.80" y2="582.71"/>
<line x1="521.80" y1="596.34" x2="531.80" y2="596.34"/>
<line x1="521.80" y1="582.71" x2="531.80" y2="582.71"/>
</g>
<circle cx="519.80" cy="567.97" r="2.6" fill="#e8727a"/>
<circle cx="533.80" cy="567.47" r="2.6" fill="#e8727a"/>
<circle cx="519.80" cy="596.09" r="2.6" fill="#e8727a"/>
<circle cx="533.80" cy="593.37" r="2.6" fill="#e8727a"/>
<circle cx="519.80" cy="606.25" r="2.6" fill="#e8727a"/>
<circle cx="533.80" cy="605.76" r="2.6" fill="#e8727a"/>
<line x1="517.20" y1="589.53" x2="536.40" y2="589.53" stroke="#e8727a" stroke-width="1.15"/>
<line x1="440.90" y1="623.60" x2="440.90" y2="628.40" stroke="#0a0a0a" stroke-width="1.2"/>
<text x="443.30" y="637.50" font-size="9.5" font-weight="bold" text-anchor="end" fill="#050505" transform="rotate(-45 443.30 637.50)">High-oat cntl</text>
<line x1="469.50" y1="623.60" x2="469.50" y2="628.40" stroke="#0a0a0a" stroke-width="1.2"/>
<text x="471.90" y="637.50" font-size="9.5" font-weight="bold" text-anchor="end" fill="#050505" transform="rotate(-45 471.90 637.50)">High-oat irr</text>
<line x1="498.10" y1="623.60" x2="498.10" y2="628.40" stroke="#0a0a0a" stroke-width="1.2"/>
<text x="500.50" y="637.50" font-size="9.5" font-weight="bold" text-anchor="end" fill="#050505" transform="rotate(-45 500.50 637.50)">No-fiber cntl</text>
<line x1="526.80" y1="623.60" x2="526.80" y2="628.40" stroke="#0a0a0a" stroke-width="1.2"/>
<text x="529.20" y="637.50" font-size="9.5" font-weight="bold" text-anchor="end" fill="#050505" transform="rotate(-45 529.20 637.50)">No-fiber irr</text>
<text x="396.30" y="561.00" font-size="10.2" font-weight="bold" text-anchor="middle" fill="#050505" transform="rotate(-90 396.30 561.00)">Anaerotruncus (%)</text>
<text x="387.80" y="474.20" font-size="12" font-weight="bold" text-anchor="start" fill="#050505">H</text>
<line x1="35.60" y1="740.80" x2="35.60" y2="761.20" stroke="#0a0a0a" stroke-width="1.2"/>
<line x1="27.30" y1="741.30" x2="35.60" y2="741.30" stroke="#0a0a0a" stroke-width="1.2"/>
<line x1="31.80" y1="757.50" x2="39.30" y2="764.90" stroke="#0a0a0a" stroke-width="1.1"/>
<line x1="31.80" y1="768.60" x2="39.30" y2="776.00" stroke="#0a0a0a" stroke-width="1.1"/>
<line x1="35.60" y1="772.30" x2="35.60" y2="788.20" stroke="#0a0a0a" stroke-width="1.2"/>
<line x1="29.10" y1="786.70" x2="35.60" y2="786.70" stroke="#0a0a0a" stroke-width="1.2"/>
<line x1="31.80" y1="784.50" x2="39.30" y2="791.90" stroke="#0a0a0a" stroke-width="1.1"/>
<line x1="31.80" y1="795.60" x2="39.30" y2="803.00" stroke="#0a0a0a" stroke-width="1.1"/>
<line x1="35.60" y1="799.30" x2="35.60" y2="866.15" stroke="#0a0a0a" stroke-width="1.2"/>
<line x1="31.10" y1="865.60" x2="35.60" y2="865.60" stroke="#0a0a0a" stroke-width="1.2"/>
<line x1="31.10" y1="843.60" x2="35.60" y2="843.60" stroke="#0a0a0a" stroke-width="1.2"/>
<line x1="31.10" y1="821.60" x2="35.60" y2="821.60" stroke="#0a0a0a" stroke-width="1.2"/>
<text transform="translate(25.60 744.95) scale(0.93 1)" font-size="10.2" font-weight="bold" text-anchor="end" fill="#050505">15</text>
<text transform="translate(24.70 764.95) scale(0.93 1)" font-size="10.2" font-weight="bold" text-anchor="end" fill="#050505">10</text>
<text transform="translate(26.90 776.75) scale(0.93 1)" font-size="10.2" font-weight="bold" text-anchor="end" fill="#050505">7</text>
<text transform="translate(26.50 790.35) scale(0.93 1)" font-size="10.2" font-weight="bold" text-anchor="end" fill="#050505">1</text>
<text transform="translate(28.70 803.05) scale(0.93 1)" font-size="10.2" font-weight="bold" text-anchor="end" fill="#050505">0.3</text>
<text transform="translate(28.70 825.25) scale(0.93 1)" font-size="10.2" font-weight="bold" text-anchor="end" fill="#050505">0.2</text>
<text transform="translate(28.70 847.25) scale(0.93 1)" font-size="10.2" font-weight="bold" text-anchor="end" fill="#050505">0.1</text>
<text transform="translate(28.70 869.25) scale(0.93 1)" font-size="10.2" font-weight="bold" text-anchor="end" fill="#050505">0.0</text>
<line x1="35.05" y1="865.60" x2="160.40" y2="865.60" stroke="#0a0a0a" stroke-width="1.2"/>
<g stroke="#c98bd6" stroke-opacity="0.8" stroke-width="1.0">
<line x1="54.90" y1="783.61" x2="54.90" y2="772.80"/>
<line x1="49.90" y1="783.61" x2="59.90" y2="783.61"/>
<line x1="49.90" y1="772.80" x2="59.90" y2="772.80"/>
</g>
<circle cx="47.70" cy="757.30" r="2.6" fill="#8d26a5"/>
<circle cx="61.90" cy="753.30" r="2.6" fill="#8d26a5"/>
<circle cx="54.90" cy="779.85" r="2.6" fill="#8d26a5"/>
<circle cx="54.90" cy="821.60" r="2.6" fill="#8d26a5"/>
<circle cx="54.90" cy="835.24" r="2.6" fill="#8d26a5"/>
<circle cx="54.90" cy="856.14" r="2.6" fill="#8d26a5"/>
<line x1="45.30" y1="778.20" x2="64.50" y2="778.20" stroke="#8d26a5" stroke-width="1.15"/>
<g stroke="#b868c6" stroke-opacity="0.78" stroke-width="1.0">
<line x1="83.50" y1="855.26" x2="83.50" y2="799.60"/>
<line x1="78.50" y1="855.26" x2="88.50" y2="855.26"/>
<line x1="78.50" y1="788.10" x2="88.50" y2="788.10"/>
</g>
<circle cx="83.50" cy="786.90" r="2.6" fill="#b868c6"/>
<circle cx="83.50" cy="837.44" r="2.6" fill="#b868c6"/>
<circle cx="76.50" cy="857.24" r="2.6" fill="#b868c6"/>
<circle cx="90.50" cy="852.40" r="2.6" fill="#b868c6"/>
<circle cx="90.50" cy="861.20" r="2.6" fill="#b868c6"/>
<circle cx="76.50" cy="865.60" r="2.6" fill="#b868c6"/>
<line x1="73.90" y1="817.20" x2="93.10" y2="817.20" stroke="#b868c6" stroke-width="1.15"/>
<g stroke="#e8302c" stroke-opacity="0.78" stroke-width="1.0">
<line x1="112.40" y1="851.08" x2="112.40" y2="846.24"/>
<line x1="107.40" y1="851.08" x2="117.40" y2="851.08"/>
<line x1="107.40" y1="846.24" x2="117.40" y2="846.24"/>
</g>
<circle cx="112.40" cy="839.64" r="2.6" fill="#e8302c"/>
<circle cx="104.90" cy="846.24" r="2.6" fill="#e8302c"/>
<circle cx="112.40" cy="845.36" r="2.6" fill="#e8302c"/>
<circle cx="119.40" cy="847.56" r="2.6" fill="#e8302c"/>
<circle cx="112.40" cy="849.76" r="2.6" fill="#e8302c"/>
<circle cx="112.40" cy="860.10" r="2.6" fill="#e8302c"/>
<line x1="102.80" y1="848.00" x2="122.00" y2="848.00" stroke="#e8302c" stroke-width="1.15"/>
<g stroke="#e8727a" stroke-opacity="0.78" stroke-width="1.0">
<line x1="141.30" y1="859.66" x2="141.30" y2="854.60"/>
<line x1="136.30" y1="859.66" x2="146.30" y2="859.66"/>
<line x1="136.30" y1="854.60" x2="146.30" y2="854.60"/>
</g>
<circle cx="138.80" cy="849.10" r="2.6" fill="#e8727a"/>
<circle cx="143.90" cy="847.56" r="2.6" fill="#e8727a"/>
<circle cx="141.30" cy="854.60" r="2.6" fill="#e8727a"/>
<circle cx="148.30" cy="859.00" r="2.6" fill="#e8727a"/>
<circle cx="134.70" cy="863.40" r="2.6" fill="#e8727a"/>
<circle cx="144.30" cy="862.30" r="2.6" fill="#e8727a"/>
<line x1="131.70" y1="857.24" x2="150.90" y2="857.24" stroke="#e8727a" stroke-width="1.15"/>
<line x1="54.90" y1="865.60" x2="54.90" y2="870.40" stroke="#0a0a0a" stroke-width="1.2"/>
<text x="57.90" y="879.70" font-size="9.8" font-weight="bold" text-anchor="end" fill="#050505" transform="rotate(-45 57.90 879.70)">High-oat cntl</text>
<line x1="83.50" y1="865.60" x2="83.50" y2="870.40" stroke="#0a0a0a" stroke-width="1.2"/>
<text x="86.50" y="879.70" font-size="9.8" font-weight="bold" text-anchor="end" fill="#050505" transform="rotate(-45 86.50 879.70)">High-oat irr</text>
<line x1="112.40" y1="865.60" x2="112.40" y2="870.40" stroke="#0a0a0a" stroke-width="1.2"/>
<text x="115.40" y="879.70" font-size="9.8" font-weight="bold" text-anchor="end" fill="#050505" transform="rotate(-45 115.40 879.70)">No-fiber cntl</text>
<line x1="141.30" y1="865.60" x2="141.30" y2="870.40" stroke="#0a0a0a" stroke-width="1.2"/>
<text x="144.30" y="879.70" font-size="9.8" font-weight="bold" text-anchor="end" fill="#050505" transform="rotate(-45 144.30 879.70)">No-fiber irr</text>
<text x="8.60" y="803.70" font-size="10.2" font-weight="bold" text-anchor="middle" fill="#050505" transform="rotate(-90 8.60 803.70)">Roseburia (%)</text>
<text x="0.60" y="718.10" font-size="12" font-weight="bold" text-anchor="start" fill="#050505">I</text>
<line x1="230.40" y1="740.80" x2="230.40" y2="866.95" stroke="#0a0a0a" stroke-width="1.2"/>
<line x1="225.90" y1="866.40" x2="230.40" y2="866.40" stroke="#0a0a0a" stroke-width="1.2"/>
<text transform="translate(222.90 870.05) scale(0.93 1)" font-size="10.2" font-weight="bold" text-anchor="end" fill="#050505">0.0</text>
<line x1="225.90" y1="824.70" x2="230.40" y2="824.70" stroke="#0a0a0a" stroke-width="1.2"/>
<text transform="translate(222.90 828.35) scale(0.93 1)" font-size="10.2" font-weight="bold" text-anchor="end" fill="#050505">0.2</text>
<line x1="225.90" y1="783.00" x2="230.40" y2="783.00" stroke="#0a0a0a" stroke-width="1.2"/>
<text transform="translate(222.90 786.65) scale(0.93 1)" font-size="10.2" font-weight="bold" text-anchor="end" fill="#050505">0.4</text>
<line x1="225.90" y1="741.30" x2="230.40" y2="741.30" stroke="#0a0a0a" stroke-width="1.2"/>
<text transform="translate(222.90 744.95) scale(0.93 1)" font-size="10.2" font-weight="bold" text-anchor="end" fill="#050505">0.6</text>
<line x1="229.85" y1="866.40" x2="355.40" y2="866.40" stroke="#0a0a0a" stroke-width="1.2"/>
<g stroke="#8d26a5" stroke-opacity="0.78" stroke-width="1.0">
<line x1="249.30" y1="857.02" x2="249.30" y2="821.16"/>
<line x1="244.30" y1="857.02" x2="254.30" y2="857.02"/>
<line x1="244.30" y1="821.16" x2="254.30" y2="821.16"/>
</g>
<circle cx="249.30" cy="754.64" r="2.6" fill="#8d26a5"/>
<circle cx="249.30" cy="832.00" r="2.6" fill="#8d26a5"/>
<circle cx="249.30" cy="849.93" r="2.6" fill="#8d26a5"/>
<circle cx="249.30" cy="864.52" r="2.6" fill="#8d26a5"/>
<circle cx="242.30" cy="866.40" r="2.6" fill="#8d26a5"/>
<circle cx="256.30" cy="866.40" r="2.6" fill="#8d26a5"/>
<line x1="239.70" y1="838.88" x2="258.90" y2="838.88" stroke="#8d26a5" stroke-width="1.15"/>
<g stroke="#b868c6" stroke-opacity="0.78" stroke-width="1.0">
<line x1="278.20" y1="862.23" x2="278.20" y2="853.89"/>
<line x1="273.20" y1="862.23" x2="283.20" y2="862.23"/>
<line x1="273.20" y1="853.89" x2="283.20" y2="853.89"/>
</g>
<circle cx="278.20" cy="842.63" r="2.6" fill="#b868c6"/>
<circle cx="278.20" cy="850.76" r="2.6" fill="#b868c6"/>
<circle cx="285.20" cy="862.23" r="2.6" fill="#b868c6"/>
<circle cx="275.00" cy="862.23" r="2.6" fill="#b868c6"/>
<circle cx="271.00" cy="865.77" r="2.6" fill="#b868c6"/>
<circle cx="281.00" cy="865.15" r="2.6" fill="#b868c6"/>
<line x1="268.60" y1="858.06" x2="287.80" y2="858.06" stroke="#b868c6" stroke-width="1.15"/>
<g stroke="#e8302c" stroke-opacity="0.78" stroke-width="1.0">
<line x1="306.80" y1="865.98" x2="306.80" y2="865.57"/>
<line x1="301.80" y1="865.98" x2="311.80" y2="865.98"/>
<line x1="301.80" y1="865.57" x2="311.80" y2="865.57"/>
</g>
<circle cx="299.60" cy="865.98" r="2.6" fill="#e8302c"/>
<circle cx="303.20" cy="865.77" r="2.6" fill="#e8302c"/>
<circle cx="306.80" cy="865.77" r="2.6" fill="#e8302c"/>
<circle cx="310.40" cy="865.98" r="2.6" fill="#e8302c"/>
<circle cx="314.00" cy="865.98" r="2.6" fill="#e8302c"/>
<circle cx="306.80" cy="865.57" r="2.6" fill="#e8302c"/>
<line x1="297.20" y1="865.77" x2="316.40" y2="865.77" stroke="#e8302c" stroke-width="1.15"/>
<g stroke="#e8727a" stroke-opacity="0.78" stroke-width="1.0">
<line x1="335.70" y1="865.36" x2="335.70" y2="863.27"/>
<line x1="330.70" y1="865.36" x2="340.70" y2="865.36"/>
<line x1="330.70" y1="863.27" x2="340.70" y2="863.27"/>
</g>
<circle cx="336.20" cy="858.89" r="2.6" fill="#e8727a"/>
<circle cx="328.90" cy="865.15" r="2.6" fill="#e8727a"/>
<circle cx="333.10" cy="864.73" r="2.6" fill="#e8727a"/>
<circle cx="338.50" cy="864.73" r="2.6" fill="#e8727a"/>
<circle cx="342.90" cy="865.36" r="2.6" fill="#e8727a"/>
<circle cx="335.70" cy="864.31" r="2.6" fill="#e8727a"/>
<line x1="326.10" y1="864.31" x2="345.30" y2="864.31" stroke="#e8727a" stroke-width="1.15"/>
<line x1="249.30" y1="866.40" x2="249.30" y2="871.20" stroke="#0a0a0a" stroke-width="1.2"/>
<text x="251.70" y="880.30" font-size="9.7" font-weight="bold" text-anchor="end" fill="#050505" transform="rotate(-45 251.70 880.30)">High-oat cntl</text>
<line x1="278.20" y1="866.40" x2="278.20" y2="871.20" stroke="#0a0a0a" stroke-width="1.2"/>
<text x="280.60" y="880.30" font-size="9.7" font-weight="bold" text-anchor="end" fill="#050505" transform="rotate(-45 280.60 880.30)">High-oat irr</text>
<line x1="306.80" y1="866.40" x2="306.80" y2="871.20" stroke="#0a0a0a" stroke-width="1.2"/>
<text x="309.20" y="880.30" font-size="9.7" font-weight="bold" text-anchor="end" fill="#050505" transform="rotate(-45 309.20 880.30)">No-fiber cntl</text>
<line x1="335.70" y1="866.40" x2="335.70" y2="871.20" stroke="#0a0a0a" stroke-width="1.2"/>
<text x="338.10" y="880.30" font-size="9.7" font-weight="bold" text-anchor="end" fill="#050505" transform="rotate(-45 338.10 880.30)">No-fiber irr</text>
<text x="203.30" y="804.50" font-size="10.2" font-weight="bold" text-anchor="middle" fill="#050505" transform="rotate(-90 203.30 804.50)">Butyricicoccus (%)</text>
<text x="195.60" y="718.20" font-size="12" font-weight="bold" text-anchor="start" fill="#050505">J</text>
<line x1="426.80" y1="745.00" x2="426.80" y2="867.25" stroke="#0a0a0a" stroke-width="1.2"/>
<line x1="422.30" y1="866.70" x2="426.80" y2="866.70" stroke="#0a0a0a" stroke-width="1.2"/>
<text transform="translate(419.30 870.35) scale(0.93 1)" font-size="10.2" font-weight="bold" text-anchor="end" fill="#050505">0.00</text>
<line x1="422.30" y1="842.46" x2="426.80" y2="842.46" stroke="#0a0a0a" stroke-width="1.2"/>
<text transform="translate(419.30 846.11) scale(0.93 1)" font-size="10.2" font-weight="bold" text-anchor="end" fill="#050505">0.02</text>
<line x1="422.30" y1="818.22" x2="426.80" y2="818.22" stroke="#0a0a0a" stroke-width="1.2"/>
<text transform="translate(419.30 821.87) scale(0.93 1)" font-size="10.2" font-weight="bold" text-anchor="end" fill="#050505">0.04</text>
<line x1="422.30" y1="793.98" x2="426.80" y2="793.98" stroke="#0a0a0a" stroke-width="1.2"/>
<text transform="translate(419.30 797.63) scale(0.93 1)" font-size="10.2" font-weight="bold" text-anchor="end" fill="#050505">0.06</text>
<line x1="422.30" y1="769.74" x2="426.80" y2="769.74" stroke="#0a0a0a" stroke-width="1.2"/>
<text transform="translate(419.30 773.39) scale(0.93 1)" font-size="10.2" font-weight="bold" text-anchor="end" fill="#050505">0.08</text>
<line x1="422.30" y1="745.50" x2="426.80" y2="745.50" stroke="#0a0a0a" stroke-width="1.2"/>
<text transform="translate(419.30 749.15) scale(0.93 1)" font-size="10.2" font-weight="bold" text-anchor="end" fill="#050505">0.10</text>
<line x1="426.25" y1="866.70" x2="549.60" y2="866.70" stroke="#0a0a0a" stroke-width="1.2"/>
<g stroke="#8d26a5" stroke-opacity="0.78" stroke-width="1.0">
<line x1="446.30" y1="817.01" x2="446.30" y2="797.62"/>
<line x1="441.30" y1="817.01" x2="451.30" y2="817.01"/>
<line x1="441.30" y1="797.62" x2="451.30" y2="797.62"/>
</g>
<circle cx="446.30" cy="777.25" r="2.6" fill="#8d26a5"/>
<circle cx="446.30" cy="784.28" r="2.6" fill="#8d26a5"/>
<circle cx="446.30" cy="806.10" r="2.6" fill="#8d26a5"/>
<circle cx="446.30" cy="813.37" r="2.6" fill="#8d26a5"/>
<circle cx="439.40" cy="830.82" r="2.6" fill="#8d26a5"/>
<circle cx="453.20" cy="830.82" r="2.6" fill="#8d26a5"/>
<line x1="436.70" y1="807.31" x2="455.90" y2="807.31" stroke="#8d26a5" stroke-width="1.15"/>
<g stroke="#b868c6" stroke-opacity="0.78" stroke-width="1.0">
<line x1="474.10" y1="803.68" x2="474.10" y2="784.28"/>
<line x1="469.10" y1="803.68" x2="479.10" y2="803.68"/>
<line x1="469.10" y1="784.28" x2="479.10" y2="784.28"/>
</g>
<circle cx="474.10" cy="756.41" r="2.6" fill="#b868c6"/>
<circle cx="474.10" cy="780.65" r="2.6" fill="#b868c6"/>
<circle cx="474.10" cy="793.98" r="2.6" fill="#b868c6"/>
<circle cx="467.20" cy="800.04" r="2.6" fill="#b868c6"/>
<circle cx="481.30" cy="800.04" r="2.6" fill="#b868c6"/>
<circle cx="474.10" cy="829.13" r="2.6" fill="#b868c6"/>
<line x1="464.50" y1="793.98" x2="483.70" y2="793.98" stroke="#b868c6" stroke-width="1.15"/>
<g stroke="#e8302c" stroke-opacity="0.78" stroke-width="1.0">
<line x1="502.60" y1="850.94" x2="502.60" y2="838.82"/>
<line x1="497.60" y1="850.94" x2="507.60" y2="850.94"/>
<line x1="497.60" y1="838.82" x2="507.60" y2="838.82"/>
</g>
<circle cx="502.60" cy="818.22" r="2.6" fill="#e8302c"/>
<circle cx="502.60" cy="836.40" r="2.6" fill="#e8302c"/>
<circle cx="495.70" cy="854.58" r="2.6" fill="#e8302c"/>
<circle cx="502.60" cy="853.97" r="2.6" fill="#e8302c"/>
<circle cx="509.20" cy="854.58" r="2.6" fill="#e8302c"/>
<circle cx="495.70" cy="853.37" r="2.6" fill="#e8302c"/>
<line x1="493.00" y1="844.88" x2="512.20" y2="844.88" stroke="#e8302c" stroke-width="1.15"/>
<g stroke="#e8727a" stroke-opacity="0.78" stroke-width="1.0">
<line x1="531.00" y1="844.88" x2="531.00" y2="833.98"/>
<line x1="526.00" y1="844.88" x2="536.00" y2="844.88"/>
<line x1="526.00" y1="833.98" x2="536.00" y2="833.98"/>
</g>
<circle cx="531.00" cy="820.64" r="2.6" fill="#e8727a"/>
<circle cx="524.10" cy="833.98" r="2.6" fill="#e8727a"/>
<circle cx="537.60" cy="838.82" r="2.6" fill="#e8727a"/>
<circle cx="531.00" cy="840.64" r="2.6" fill="#e8727a"/>
<circle cx="538.20" cy="843.67" r="2.6" fill="#e8727a"/>
<circle cx="531.00" cy="859.79" r="2.6" fill="#e8727a"/>
<line x1="521.40" y1="840.04" x2="540.60" y2="840.04" stroke="#e8727a" stroke-width="1.15"/>
<line x1="446.30" y1="866.70" x2="446.30" y2="871.50" stroke="#0a0a0a" stroke-width="1.2"/>
<text x="448.70" y="880.60" font-size="9.7" font-weight="bold" text-anchor="end" fill="#050505" transform="rotate(-45 448.70 880.60)">High-oat cntl</text>
<line x1="474.10" y1="866.70" x2="474.10" y2="871.50" stroke="#0a0a0a" stroke-width="1.2"/>
<text x="476.50" y="880.60" font-size="9.7" font-weight="bold" text-anchor="end" fill="#050505" transform="rotate(-45 476.50 880.60)">High-oat irr</text>
<line x1="502.60" y1="866.70" x2="502.60" y2="871.50" stroke="#0a0a0a" stroke-width="1.2"/>
<text x="505.00" y="880.60" font-size="9.7" font-weight="bold" text-anchor="end" fill="#050505" transform="rotate(-45 505.00 880.60)">No-fiber cntl</text>
<line x1="531.00" y1="866.70" x2="531.00" y2="871.50" stroke="#0a0a0a" stroke-width="1.2"/>
<text x="533.40" y="880.60" font-size="9.7" font-weight="bold" text-anchor="end" fill="#050505" transform="rotate(-45 533.40 880.60)">No-fiber irr</text>
<text x="394.80" y="805.50" font-size="10.2" font-weight="bold" text-anchor="middle" fill="#050505" transform="rotate(-90 394.80 805.50)">Rumminococcaceae UCG-009 (%)</text>
<text x="386.80" y="718.80" font-size="12" font-weight="bold" text-anchor="start" fill="#050505">K</text>
<path d="M474.10 751.00V745.50H531.00V751.00" fill="none" stroke="#0a0a0a" stroke-width="1.2"/>
<text x="502.55" y="743.50" font-size="13" font-weight="bold" text-anchor="middle" fill="#050505">*</text>
</svg>
</body></html>
